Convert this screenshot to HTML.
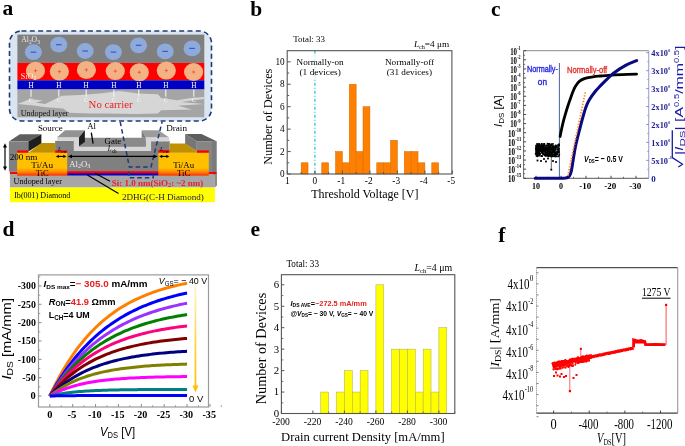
<!DOCTYPE html>
<html><head><meta charset="utf-8"><style>
html,body{margin:0;padding:0;background:#fff;width:685px;height:446px;overflow:hidden;font-family:"Liberation Serif",serif;}
svg{display:block;filter:blur(0.4px);}
</style></head><body>
<svg width="685" height="446" viewBox="0 0 685 446"><defs><linearGradient id="tic" x1="0" y1="0" x2="0" y2="1"><stop offset="0" stop-color="#ffc000"/><stop offset="0.66" stop-color="#ffc000"/><stop offset="0.84" stop-color="#ff8a00"/><stop offset="1" stop-color="#ff2a00"/></linearGradient><linearGradient id="yarr" x1="0" y1="0" x2="0" y2="1"><stop offset="0" stop-color="#fff7d0"/><stop offset="0.5" stop-color="#ffd84a"/><stop offset="1" stop-color="#ffc000"/></linearGradient></defs><rect x="0" y="0" width="685" height="446" fill="#ffffff"/><text x="2.40" y="15.20" font-family='"Liberation Serif", serif' font-size="21.5" fill="#000" text-anchor="start" font-weight="bold" font-style="normal" >a</text><text x="250.30" y="15.90" font-family='"Liberation Serif", serif' font-size="21.5" fill="#000" text-anchor="start" font-weight="bold" font-style="normal" >b</text><text x="491.00" y="15.50" font-family='"Liberation Serif", serif' font-size="21.5" fill="#000" text-anchor="start" font-weight="bold" font-style="normal" >c</text><text x="2.60" y="235.90" font-family='"Liberation Serif", serif' font-size="21.5" fill="#000" text-anchor="start" font-weight="bold" font-style="normal" >d</text><text x="250.50" y="235.90" font-family='"Liberation Serif", serif' font-size="21.5" fill="#000" text-anchor="start" font-weight="bold" font-style="normal" >e</text><text x="498.30" y="241.80" font-family='"Liberation Serif", serif' font-size="21.5" fill="#000" text-anchor="start" font-weight="bold" font-style="normal" >f</text><rect x="9.5" y="31" width="202" height="90" rx="12" ry="12" fill="#dbe5f1" stroke="#1f3a78" stroke-width="1.6" stroke-dasharray="5 3.3"/><rect x="17.40" y="34.60" width="186.90" height="28.30" fill="#7f7f7f" /><rect x="17.40" y="62.90" width="186.90" height="17.40" fill="#ff0000" /><rect x="17.40" y="80.30" width="186.90" height="9.20" fill="#0000c0" /><rect x="17.40" y="89.50" width="186.90" height="27.80" fill="#a5a5a5" /><polygon points="17.50,104.00 30.00,99.00 43.00,100.50 36.00,102.50 45.00,104.00 62.00,95.80 80.00,95.00 100.00,93.50 119.00,91.10 139.00,93.40 158.00,94.20 161.00,98.00 177.00,100.30 191.00,98.00 204.00,97.00 204.00,99.00 181.00,102.00 204.00,104.00 178.00,105.80 192.00,109.50 161.00,110.30 158.00,113.40 136.00,114.10 105.00,113.40 90.00,113.50 69.00,112.70 63.00,108.40 44.00,106.90 34.00,105.40" fill="#d6d6d6" /><ellipse cx="33.4" cy="52.2" rx="8.5" ry="7.9" fill="#8eaadb"/><line x1="30.60" y1="52.20" x2="36.20" y2="52.20" stroke="#3a5ac4" stroke-width="1.2" /><ellipse cx="58.8" cy="44.7" rx="8.5" ry="7.9" fill="#8eaadb"/><line x1="56.00" y1="44.70" x2="61.60" y2="44.70" stroke="#3a5ac4" stroke-width="1.2" /><ellipse cx="85.2" cy="51.0" rx="8.5" ry="7.9" fill="#8eaadb"/><line x1="82.40" y1="51.00" x2="88.00" y2="51.00" stroke="#3a5ac4" stroke-width="1.2" /><ellipse cx="113.4" cy="52.1" rx="8.5" ry="7.9" fill="#8eaadb"/><line x1="110.60" y1="52.10" x2="116.20" y2="52.10" stroke="#3a5ac4" stroke-width="1.2" /><ellipse cx="138.6" cy="45.3" rx="8.5" ry="7.9" fill="#8eaadb"/><line x1="135.80" y1="45.30" x2="141.40" y2="45.30" stroke="#3a5ac4" stroke-width="1.2" /><ellipse cx="165.2" cy="51.4" rx="8.5" ry="7.9" fill="#8eaadb"/><line x1="162.40" y1="51.40" x2="168.00" y2="51.40" stroke="#3a5ac4" stroke-width="1.2" /><ellipse cx="192.1" cy="48.4" rx="8.5" ry="7.9" fill="#8eaadb"/><line x1="189.30" y1="48.40" x2="194.90" y2="48.40" stroke="#3a5ac4" stroke-width="1.2" /><ellipse cx="35.5" cy="70.7" rx="9.6" ry="9.0" fill="#f4b183"/><line x1="33.80" y1="70.70" x2="37.20" y2="70.70" stroke="#e84a2a" stroke-width="0.7" /><line x1="35.50" y1="69.00" x2="35.50" y2="72.40" stroke="#e84a2a" stroke-width="0.7" /><ellipse cx="59.4" cy="71.6" rx="9.6" ry="9.0" fill="#f4b183"/><line x1="57.70" y1="71.60" x2="61.10" y2="71.60" stroke="#e84a2a" stroke-width="0.7" /><line x1="59.40" y1="69.90" x2="59.40" y2="73.30" stroke="#e84a2a" stroke-width="0.7" /><ellipse cx="86.4" cy="69.9" rx="9.6" ry="9.0" fill="#f4b183"/><line x1="84.70" y1="69.90" x2="88.10" y2="69.90" stroke="#e84a2a" stroke-width="0.7" /><line x1="86.40" y1="68.20" x2="86.40" y2="71.60" stroke="#e84a2a" stroke-width="0.7" /><ellipse cx="115.3" cy="71.1" rx="9.6" ry="9.0" fill="#f4b183"/><line x1="113.60" y1="71.10" x2="117.00" y2="71.10" stroke="#e84a2a" stroke-width="0.7" /><line x1="115.30" y1="69.40" x2="115.30" y2="72.80" stroke="#e84a2a" stroke-width="0.7" /><ellipse cx="139.3" cy="72.3" rx="9.6" ry="9.0" fill="#f4b183"/><line x1="137.60" y1="72.30" x2="141.00" y2="72.30" stroke="#e84a2a" stroke-width="0.7" /><line x1="139.30" y1="70.60" x2="139.30" y2="74.00" stroke="#e84a2a" stroke-width="0.7" /><ellipse cx="166.3" cy="70.6" rx="9.6" ry="9.0" fill="#f4b183"/><line x1="164.60" y1="70.60" x2="168.00" y2="70.60" stroke="#e84a2a" stroke-width="0.7" /><line x1="166.30" y1="68.90" x2="166.30" y2="72.30" stroke="#e84a2a" stroke-width="0.7" /><ellipse cx="193.6" cy="72.0" rx="9.6" ry="9.0" fill="#f4b183"/><line x1="191.90" y1="72.00" x2="195.30" y2="72.00" stroke="#e84a2a" stroke-width="0.7" /><line x1="193.60" y1="70.30" x2="193.60" y2="73.70" stroke="#e84a2a" stroke-width="0.7" /><text x="21.20" y="42.40" font-family='"Liberation Serif", serif' font-size="8.5" fill="#e8e8e8" font-weight="normal" font-style="normal" textLength="18.70" lengthAdjust="spacingAndGlyphs" >Al<tspan font-size="6" dy="1.5">2</tspan><tspan dy="-1.5">O</tspan><tspan font-size="6" dy="1.5">3</tspan></text><text x="20.80" y="78.50" font-family='"Liberation Serif", serif' font-size="8.5" fill="#f0f0f0" font-weight="normal" font-style="normal" textLength="15.50" lengthAdjust="spacingAndGlyphs" >SiO<tspan font-size="6" dy="1.5">2</tspan></text><text x="31.00" y="87.60" font-family='"Liberation Serif", serif' font-size="7.2" fill="#ffffff" text-anchor="middle" font-weight="normal" font-style="normal" >H</text><line x1="31.00" y1="89.60" x2="31.00" y2="96.80" stroke="#f4f4f4" stroke-width="1.1" /><text x="31.00" y="102.00" font-family='"Liberation Serif", serif' font-size="6.4" fill="#f6f6f6" text-anchor="middle" font-weight="normal" font-style="normal" >C</text><text x="58.80" y="87.60" font-family='"Liberation Serif", serif' font-size="7.2" fill="#ffffff" text-anchor="middle" font-weight="normal" font-style="normal" >H</text><line x1="58.80" y1="89.60" x2="58.80" y2="96.80" stroke="#f4f4f4" stroke-width="1.1" /><text x="58.80" y="102.00" font-family='"Liberation Serif", serif' font-size="6.4" fill="#f6f6f6" text-anchor="middle" font-weight="normal" font-style="normal" >C</text><text x="86.20" y="87.60" font-family='"Liberation Serif", serif' font-size="7.2" fill="#ffffff" text-anchor="middle" font-weight="normal" font-style="normal" >H</text><line x1="86.20" y1="89.60" x2="86.20" y2="96.80" stroke="#f4f4f4" stroke-width="1.1" /><text x="86.20" y="102.00" font-family='"Liberation Serif", serif' font-size="6.4" fill="#f6f6f6" text-anchor="middle" font-weight="normal" font-style="normal" >C</text><text x="113.90" y="87.60" font-family='"Liberation Serif", serif' font-size="7.2" fill="#ffffff" text-anchor="middle" font-weight="normal" font-style="normal" >H</text><line x1="113.90" y1="89.60" x2="113.90" y2="96.80" stroke="#f4f4f4" stroke-width="1.1" /><text x="113.90" y="102.00" font-family='"Liberation Serif", serif' font-size="6.4" fill="#f6f6f6" text-anchor="middle" font-weight="normal" font-style="normal" >C</text><text x="138.80" y="87.60" font-family='"Liberation Serif", serif' font-size="7.2" fill="#ffffff" text-anchor="middle" font-weight="normal" font-style="normal" >H</text><line x1="138.80" y1="89.60" x2="138.80" y2="96.80" stroke="#f4f4f4" stroke-width="1.1" /><text x="138.80" y="102.00" font-family='"Liberation Serif", serif' font-size="6.4" fill="#f6f6f6" text-anchor="middle" font-weight="normal" font-style="normal" >C</text><text x="165.80" y="87.60" font-family='"Liberation Serif", serif' font-size="7.2" fill="#ffffff" text-anchor="middle" font-weight="normal" font-style="normal" >H</text><line x1="165.80" y1="89.60" x2="165.80" y2="96.80" stroke="#f4f4f4" stroke-width="1.1" /><text x="165.80" y="102.00" font-family='"Liberation Serif", serif' font-size="6.4" fill="#f6f6f6" text-anchor="middle" font-weight="normal" font-style="normal" >C</text><text x="193.80" y="87.60" font-family='"Liberation Serif", serif' font-size="7.2" fill="#ffffff" text-anchor="middle" font-weight="normal" font-style="normal" >H</text><line x1="193.80" y1="89.60" x2="193.80" y2="96.80" stroke="#f4f4f4" stroke-width="1.1" /><text x="193.80" y="102.00" font-family='"Liberation Serif", serif' font-size="6.4" fill="#f6f6f6" text-anchor="middle" font-weight="normal" font-style="normal" >C</text><text x="88.60" y="107.60" font-family='"Liberation Serif", serif' font-size="10.2" fill="#ee1c1c" font-weight="normal" font-style="normal" textLength="44.00" lengthAdjust="spacingAndGlyphs" >No carrier</text><text x="20.70" y="115.60" font-family='"Liberation Serif", serif' font-size="8.8" fill="#111" font-weight="normal" font-style="normal" textLength="47.80" lengthAdjust="spacingAndGlyphs" >Undoped layer</text><rect x="9.90" y="187.30" width="205.00" height="14.90" fill="#ffff00" /><rect x="9.90" y="173.80" width="205.00" height="13.50" fill="#a6a6a6" /><polygon points="209.00,172.00 217.00,172.00 217.00,185.50 214.90,187.30 214.90,175.50" fill="#8c8c8c" /><rect x="9.90" y="171.50" width="206.50" height="2.50" fill="#ff0000" /><polygon points="8.90,141.60 19.80,134.20 41.40,134.20 28.40,141.60" fill="#5f5f5f" /><rect x="8.90" y="141.60" width="19.50" height="30.00" fill="#808080" /><polygon points="28.40,141.60 41.40,134.20 41.40,143.50 28.40,151.50" fill="#1e1e1e" /><polygon points="185.10,134.10 201.50,134.10 216.50,141.20 196.80,141.20" fill="#5e5e5e" /><polygon points="185.10,134.10 196.80,141.20 196.80,151.20 185.10,143.70" fill="#767676" /><rect x="196.80" y="141.20" width="19.70" height="30.80" fill="#858585" /><polygon points="212.00,141.20 216.50,141.20 216.50,172.00 212.00,172.00" fill="#7a7a7a" /><rect x="55.10" y="140.80" width="114.60" height="30.80" fill="#808080" /><polygon points="57.10,137.30 79.00,137.30 79.00,146.60 145.80,146.60 145.80,137.30 169.20,137.30 169.20,141.40 151.10,141.40 151.10,150.90 73.80,150.90 73.80,140.80 57.10,140.80" fill="#d6d6d6" /><polygon points="84.90,137.80 141.70,137.80 145.80,137.80 145.80,146.60 79.00,146.60 79.00,146.00" fill="#8a8a8a" /><polygon points="57.10,137.30 65.00,130.30 84.90,130.30 79.00,137.30" fill="#939393" /><polygon points="79.00,137.30 84.90,130.30 84.90,141.90 79.00,146.00" fill="#1e1e1e" /><polygon points="141.70,130.30 158.60,130.30 168.80,137.30 145.80,137.30" fill="#9c9c9c" /><polygon points="141.70,130.30 145.80,137.30 145.80,137.80 141.70,137.80" fill="#7a7a7a" /><rect x="67.20" y="171.20" width="91.40" height="2.20" fill="#ff0000" /><rect x="67.20" y="173.40" width="91.40" height="2.10" fill="#0000d0" /><rect x="17.10" y="152.60" width="50.10" height="23.00" fill="url(#tic)" /><rect x="158.40" y="152.60" width="50.40" height="23.00" fill="url(#tic)" /><rect x="17.10" y="150.40" width="11.30" height="2.30" fill="#ff0000" /><rect x="55.10" y="150.50" width="12.10" height="2.20" fill="#ff0000" /><rect x="158.40" y="150.10" width="11.30" height="2.50" fill="#ff0000" /><rect x="196.80" y="150.40" width="12.00" height="2.30" fill="#ff0000" /><polygon points="28.40,152.70 41.40,143.10 55.10,143.10 55.10,152.70" fill="#bf9000" /><polygon points="169.70,152.70 169.70,143.40 185.10,143.40 196.80,151.20 196.80,152.70" fill="#bf9000" /><path d="M120.2,121.8 L129.4,167.1 L151.0,167.1 L162.1,121.8" fill="none" stroke="#1f3a78" stroke-width="1.5" stroke-dasharray="4.5 3"/><path d="M128.6,171.5 L128.6,177.8 L153.2,177.8 L153.2,171.5" fill="none" stroke="#1f3a78" stroke-width="1.5" stroke-dasharray="4.5 3"/><line x1="70.00" y1="156.40" x2="155.50" y2="156.40" stroke="#000" stroke-width="1.2" /><polygon points="67.80,156.40 72.00,154.50 72.00,158.30" fill="#000" /><polygon points="157.70,156.40 153.50,154.50 153.50,158.30" fill="#000" /><line x1="57.90" y1="156.40" x2="64.40" y2="156.40" stroke="#000" stroke-width="1.1" /><polygon points="55.90,156.40 58.90,154.70 58.90,158.10" fill="#000" /><polygon points="66.40,156.40 63.40,154.70 63.40,158.10" fill="#000" /><line x1="161.20" y1="156.40" x2="167.30" y2="156.40" stroke="#000" stroke-width="1.1" /><polygon points="159.20,156.40 162.20,154.70 162.20,158.10" fill="#000" /><polygon points="169.30,156.40 166.30,154.70 166.30,158.10" fill="#000" /><line x1="5.00" y1="146.00" x2="5.00" y2="168.00" stroke="#000" stroke-width="1.2" /><polygon points="5.00,143.30 3.00,147.50 7.00,147.50" fill="#000" /><polygon points="5.00,170.70 3.00,166.50 7.00,166.50" fill="#000" /><line x1="95.00" y1="173.20" x2="110.00" y2="181.20" stroke="#000" stroke-width="1.2" /><line x1="87.40" y1="175.10" x2="118.50" y2="193.60" stroke="#000" stroke-width="1.2" /><line x1="91.30" y1="132.60" x2="93.10" y2="143.70" stroke="#000" stroke-width="1.3" /><text x="37.90" y="130.60" font-family='"Liberation Serif", serif' font-size="8.6" fill="#000" font-weight="normal" font-style="normal" textLength="24.80" lengthAdjust="spacingAndGlyphs" >Source</text><text x="166.20" y="130.70" font-family='"Liberation Serif", serif' font-size="8.6" fill="#000" font-weight="normal" font-style="normal" textLength="20.80" lengthAdjust="spacingAndGlyphs" >Drain</text><text x="87.20" y="129.10" font-family='"Liberation Serif", serif' font-size="8.2" fill="#000" font-weight="normal" font-style="normal" textLength="8.80" lengthAdjust="spacingAndGlyphs" >Al</text><text x="104.60" y="144.30" font-family='"Liberation Serif", serif' font-size="8.0" fill="#000" font-weight="normal" font-style="normal" textLength="16.70" lengthAdjust="spacingAndGlyphs" >Gate</text><text x="107.80" y="151.30" font-family='"Liberation Serif", serif' font-size="7.5" fill="#000" font-weight="normal" font-style="normal" textLength="8.80" lengthAdjust="spacingAndGlyphs" ><tspan font-style="italic">L</tspan><tspan font-size="5.5" dy="1.3">ch</tspan></text><text x="58.00" y="151.30" font-family='"Liberation Serif", serif' font-size="7.0" fill="#000" font-weight="normal" font-style="normal" textLength="8.50" lengthAdjust="spacingAndGlyphs" ><tspan font-style="italic">L</tspan><tspan font-size="5" dy="1.2">ext</tspan></text><text x="160.00" y="151.30" font-family='"Liberation Serif", serif' font-size="7.0" fill="#000" font-weight="normal" font-style="normal" textLength="8.50" lengthAdjust="spacingAndGlyphs" ><tspan font-style="italic">L</tspan><tspan font-size="5" dy="1.2">ext</tspan></text><text x="9.70" y="159.60" font-family='"Liberation Serif", serif' font-size="8.4" fill="#000" font-weight="normal" font-style="normal" textLength="27.60" lengthAdjust="spacingAndGlyphs" >200 nm</text><text x="31.30" y="167.90" font-family='"Liberation Serif", serif' font-size="8.6" fill="#000" font-weight="normal" font-style="normal" textLength="21.80" lengthAdjust="spacingAndGlyphs" >Ti/Au</text><text x="35.80" y="175.60" font-family='"Liberation Serif", serif' font-size="8.8" fill="#000" font-weight="normal" font-style="normal" textLength="13.00" lengthAdjust="spacingAndGlyphs" >TiC</text><text x="173.30" y="168.00" font-family='"Liberation Serif", serif' font-size="8.6" fill="#000" font-weight="normal" font-style="normal" textLength="20.80" lengthAdjust="spacingAndGlyphs" >Ti/Au</text><text x="177.00" y="175.50" font-family='"Liberation Serif", serif' font-size="8.8" fill="#000" font-weight="normal" font-style="normal" textLength="13.40" lengthAdjust="spacingAndGlyphs" >TiC</text><text x="69.30" y="166.50" font-family='"Liberation Serif", serif' font-size="8.6" fill="#eeeeee" font-weight="normal" font-style="normal" textLength="21.00" lengthAdjust="spacingAndGlyphs" >Al<tspan font-size="6" dy="1.5">2</tspan><tspan dy="-1.5">O</tspan><tspan font-size="6" dy="1.5">3</tspan></text><text x="13.60" y="183.50" font-family='"Liberation Serif", serif' font-size="8.8" fill="#000" font-weight="normal" font-style="normal" textLength="48.30" lengthAdjust="spacingAndGlyphs" >Undoped layer</text><text x="14.20" y="198.10" font-family='"Liberation Serif", serif' font-size="8.6" fill="#000" font-weight="normal" font-style="normal" textLength="56.10" lengthAdjust="spacingAndGlyphs" >Ib(001) Diamond</text><text x="111.70" y="185.70" font-family='"Liberation Serif", serif' font-size="8.3" fill="#e8202a" font-weight="bold" font-style="normal" textLength="91.60" lengthAdjust="spacingAndGlyphs" >Si: 1.0 nm(SiO<tspan font-size="6" dy="1.5">2</tspan><tspan dy="-1.5">: ~2 nm)</tspan></text><text x="121.90" y="199.80" font-family='"Liberation Serif", serif' font-size="9.0" fill="#1a1a40" font-weight="normal" font-style="normal" textLength="81.90" lengthAdjust="spacingAndGlyphs" >2DHG(C-H Diamond)</text><rect x="301.15" y="162.78" width="6.88" height="11.22" fill="#ff8000" stroke="#d06a00" stroke-width="0.5"/><rect x="321.77" y="162.78" width="6.88" height="11.22" fill="#ff8000" stroke="#d06a00" stroke-width="0.5"/><rect x="335.52" y="151.56" width="6.88" height="22.44" fill="#ff8000" stroke="#d06a00" stroke-width="0.5"/><rect x="342.40" y="162.78" width="6.88" height="11.22" fill="#ff8000" stroke="#d06a00" stroke-width="0.5"/><rect x="349.27" y="84.24" width="6.88" height="89.76" fill="#ff8000" stroke="#d06a00" stroke-width="0.5"/><rect x="356.15" y="151.56" width="6.88" height="22.44" fill="#ff8000" stroke="#d06a00" stroke-width="0.5"/><rect x="363.02" y="106.68" width="6.88" height="67.32" fill="#ff8000" stroke="#d06a00" stroke-width="0.5"/><rect x="376.77" y="162.78" width="6.88" height="11.22" fill="#ff8000" stroke="#d06a00" stroke-width="0.5"/><rect x="383.65" y="162.78" width="6.88" height="11.22" fill="#ff8000" stroke="#d06a00" stroke-width="0.5"/><rect x="390.52" y="140.34" width="6.88" height="33.66" fill="#ff8000" stroke="#d06a00" stroke-width="0.5"/><rect x="404.27" y="151.56" width="6.88" height="22.44" fill="#ff8000" stroke="#d06a00" stroke-width="0.5"/><rect x="411.15" y="151.56" width="6.88" height="22.44" fill="#ff8000" stroke="#d06a00" stroke-width="0.5"/><rect x="418.02" y="162.78" width="6.88" height="11.22" fill="#ff8000" stroke="#d06a00" stroke-width="0.5"/><rect x="431.77" y="162.78" width="6.88" height="11.22" fill="#ff8000" stroke="#d06a00" stroke-width="0.5"/><line x1="314.90" y1="50.7" x2="314.90" y2="174.0" stroke="#2fc4cc" stroke-width="1.3" stroke-dasharray="3 2 1 2"/><rect x="292.00" y="56.00" width="54.00" height="23.00" fill="#ffffff" opacity="0.75"/><rect x="287.20" y="50.70" width="164.70" height="123.30" fill="none" stroke="#555" stroke-width="1.1"/><line x1="287.20" y1="174.00" x2="290.70" y2="174.00" stroke="#555" stroke-width="1" /><text x="280.00" y="177.20" font-family='"Liberation Serif", serif' font-size="9.5" fill="#000" font-weight="normal" font-style="normal" textLength="4.60" lengthAdjust="spacingAndGlyphs" >0</text><line x1="287.20" y1="162.78" x2="289.20" y2="162.78" stroke="#555" stroke-width="1" /><line x1="287.20" y1="151.56" x2="290.70" y2="151.56" stroke="#555" stroke-width="1" /><text x="280.00" y="154.76" font-family='"Liberation Serif", serif' font-size="9.5" fill="#000" font-weight="normal" font-style="normal" textLength="4.60" lengthAdjust="spacingAndGlyphs" >2</text><line x1="287.20" y1="140.34" x2="289.20" y2="140.34" stroke="#555" stroke-width="1" /><line x1="287.20" y1="129.12" x2="290.70" y2="129.12" stroke="#555" stroke-width="1" /><text x="280.00" y="132.32" font-family='"Liberation Serif", serif' font-size="9.5" fill="#000" font-weight="normal" font-style="normal" textLength="4.60" lengthAdjust="spacingAndGlyphs" >4</text><line x1="287.20" y1="117.90" x2="289.20" y2="117.90" stroke="#555" stroke-width="1" /><line x1="287.20" y1="106.68" x2="290.70" y2="106.68" stroke="#555" stroke-width="1" /><text x="280.00" y="109.88" font-family='"Liberation Serif", serif' font-size="9.5" fill="#000" font-weight="normal" font-style="normal" textLength="4.60" lengthAdjust="spacingAndGlyphs" >6</text><line x1="287.20" y1="95.46" x2="289.20" y2="95.46" stroke="#555" stroke-width="1" /><line x1="287.20" y1="84.24" x2="290.70" y2="84.24" stroke="#555" stroke-width="1" /><text x="280.00" y="87.44" font-family='"Liberation Serif", serif' font-size="9.5" fill="#000" font-weight="normal" font-style="normal" textLength="4.60" lengthAdjust="spacingAndGlyphs" >8</text><line x1="287.20" y1="73.02" x2="289.20" y2="73.02" stroke="#555" stroke-width="1" /><line x1="287.20" y1="61.80" x2="290.70" y2="61.80" stroke="#555" stroke-width="1" /><text x="275.40" y="65.00" font-family='"Liberation Serif", serif' font-size="9.5" fill="#000" font-weight="normal" font-style="normal" textLength="9.20" lengthAdjust="spacingAndGlyphs" >10</text><line x1="287.40" y1="174.00" x2="287.40" y2="170.50" stroke="#555" stroke-width="1" /><text x="287.40" y="184.20" font-family='"Liberation Serif", serif' font-size="9.3" fill="#000" text-anchor="middle" font-weight="normal" font-style="normal" >1</text><line x1="301.15" y1="174.00" x2="301.15" y2="172.00" stroke="#555" stroke-width="1" /><line x1="314.90" y1="174.00" x2="314.90" y2="170.50" stroke="#555" stroke-width="1" /><text x="314.90" y="184.20" font-family='"Liberation Serif", serif' font-size="9.3" fill="#000" text-anchor="middle" font-weight="normal" font-style="normal" >0</text><line x1="328.65" y1="174.00" x2="328.65" y2="172.00" stroke="#555" stroke-width="1" /><line x1="342.40" y1="174.00" x2="342.40" y2="170.50" stroke="#555" stroke-width="1" /><text x="341.20" y="184.20" font-family='"Liberation Serif", serif' font-size="9.3" fill="#000" text-anchor="middle" font-weight="normal" font-style="normal" >-1</text><line x1="356.15" y1="174.00" x2="356.15" y2="172.00" stroke="#555" stroke-width="1" /><line x1="369.90" y1="174.00" x2="369.90" y2="170.50" stroke="#555" stroke-width="1" /><text x="368.70" y="184.20" font-family='"Liberation Serif", serif' font-size="9.3" fill="#000" text-anchor="middle" font-weight="normal" font-style="normal" >-2</text><line x1="383.65" y1="174.00" x2="383.65" y2="172.00" stroke="#555" stroke-width="1" /><line x1="397.40" y1="174.00" x2="397.40" y2="170.50" stroke="#555" stroke-width="1" /><text x="396.20" y="184.20" font-family='"Liberation Serif", serif' font-size="9.3" fill="#000" text-anchor="middle" font-weight="normal" font-style="normal" >-3</text><line x1="411.15" y1="174.00" x2="411.15" y2="172.00" stroke="#555" stroke-width="1" /><line x1="424.90" y1="174.00" x2="424.90" y2="170.50" stroke="#555" stroke-width="1" /><text x="423.70" y="184.20" font-family='"Liberation Serif", serif' font-size="9.3" fill="#000" text-anchor="middle" font-weight="normal" font-style="normal" >-4</text><line x1="438.65" y1="174.00" x2="438.65" y2="172.00" stroke="#555" stroke-width="1" /><line x1="452.40" y1="174.00" x2="452.40" y2="170.50" stroke="#555" stroke-width="1" /><text x="451.20" y="184.20" font-family='"Liberation Serif", serif' font-size="9.3" fill="#000" text-anchor="middle" font-weight="normal" font-style="normal" >-5</text><text x="293.20" y="41.70" font-family='"Liberation Serif", serif' font-size="9.0" fill="#000" font-weight="normal" font-style="normal" textLength="31.80" lengthAdjust="spacingAndGlyphs" >Total: 33</text><text x="413.90" y="46.80" font-family='"Liberation Serif", serif' font-size="9.0" fill="#000" font-weight="normal" font-style="normal" textLength="35.30" lengthAdjust="spacingAndGlyphs" ><tspan font-style="italic">L</tspan><tspan font-size="6" dy="1.8">ch</tspan><tspan dy="-1.8">=4 μm</tspan></text><text x="296.60" y="64.60" font-family='"Liberation Serif", serif' font-size="9.2" fill="#000" font-weight="normal" font-style="normal" textLength="47.00" lengthAdjust="spacingAndGlyphs" >Normally-on</text><text x="299.50" y="75.20" font-family='"Liberation Serif", serif' font-size="9.2" fill="#000" font-weight="normal" font-style="normal" textLength="41.30" lengthAdjust="spacingAndGlyphs" >(1 devices)</text><text x="384.90" y="64.80" font-family='"Liberation Serif", serif' font-size="9.2" fill="#000" font-weight="normal" font-style="normal" textLength="49.30" lengthAdjust="spacingAndGlyphs" >Normally-off</text><text x="386.80" y="75.40" font-family='"Liberation Serif", serif' font-size="9.2" fill="#000" font-weight="normal" font-style="normal" textLength="45.20" lengthAdjust="spacingAndGlyphs" >(31 devices)</text><text x="311.20" y="197.90" font-family='"Liberation Serif", serif' font-size="12.2" fill="#000" font-weight="normal" font-style="normal" textLength="107.30" lengthAdjust="spacingAndGlyphs" >Threshold Voltage [V]</text><text x="0" y="0" font-family='"Liberation Serif", serif' font-size="12.6" fill="#000" font-weight="normal" textLength="96.20" lengthAdjust="spacingAndGlyphs" transform="translate(272.00,164.80) rotate(-90)">Number of Devices</text><line x1="523.60" y1="50.70" x2="648.70" y2="50.70" stroke="#8a8a8a" stroke-width="1" /><line x1="523.60" y1="50.70" x2="523.60" y2="178.30" stroke="#666" stroke-width="1" /><line x1="523.60" y1="178.30" x2="648.70" y2="178.30" stroke="#555" stroke-width="1" /><line x1="648.70" y1="50.70" x2="648.70" y2="178.30" stroke="#a8a8d8" stroke-width="1.2" /><line x1="523.60" y1="50.70" x2="526.10" y2="50.70" stroke="#333" stroke-width="0.9" /><line x1="523.60" y1="55.25" x2="525.10" y2="55.25" stroke="#333" stroke-width="0.7" /><text x="510.20" y="54.50" font-family='"Liberation Serif", serif' font-size="9.4" fill="#000" font-weight="bold" font-style="normal" textLength="6.80" lengthAdjust="spacingAndGlyphs" >10</text><text x="517.20" y="49.80" font-family='"Liberation Serif", serif' font-size="5.8" fill="#000" font-weight="bold" font-style="normal" textLength="3.40" lengthAdjust="spacingAndGlyphs" >-1</text><line x1="523.60" y1="59.81" x2="526.10" y2="59.81" stroke="#333" stroke-width="0.9" /><line x1="523.60" y1="64.36" x2="525.10" y2="64.36" stroke="#333" stroke-width="0.7" /><text x="510.20" y="63.61" font-family='"Liberation Serif", serif' font-size="9.4" fill="#000" font-weight="bold" font-style="normal" textLength="6.80" lengthAdjust="spacingAndGlyphs" >10</text><text x="517.20" y="58.91" font-family='"Liberation Serif", serif' font-size="5.8" fill="#000" font-weight="bold" font-style="normal" textLength="3.40" lengthAdjust="spacingAndGlyphs" >-2</text><line x1="523.60" y1="68.93" x2="526.10" y2="68.93" stroke="#333" stroke-width="0.9" /><line x1="523.60" y1="73.48" x2="525.10" y2="73.48" stroke="#333" stroke-width="0.7" /><text x="510.20" y="72.73" font-family='"Liberation Serif", serif' font-size="9.4" fill="#000" font-weight="bold" font-style="normal" textLength="6.80" lengthAdjust="spacingAndGlyphs" >10</text><text x="517.20" y="68.03" font-family='"Liberation Serif", serif' font-size="5.8" fill="#000" font-weight="bold" font-style="normal" textLength="3.40" lengthAdjust="spacingAndGlyphs" >-3</text><line x1="523.60" y1="78.04" x2="526.10" y2="78.04" stroke="#333" stroke-width="0.9" /><line x1="523.60" y1="82.59" x2="525.10" y2="82.59" stroke="#333" stroke-width="0.7" /><text x="510.20" y="81.84" font-family='"Liberation Serif", serif' font-size="9.4" fill="#000" font-weight="bold" font-style="normal" textLength="6.80" lengthAdjust="spacingAndGlyphs" >10</text><text x="517.20" y="77.14" font-family='"Liberation Serif", serif' font-size="5.8" fill="#000" font-weight="bold" font-style="normal" textLength="3.40" lengthAdjust="spacingAndGlyphs" >-4</text><line x1="523.60" y1="87.16" x2="526.10" y2="87.16" stroke="#333" stroke-width="0.9" /><line x1="523.60" y1="91.71" x2="525.10" y2="91.71" stroke="#333" stroke-width="0.7" /><text x="510.20" y="90.96" font-family='"Liberation Serif", serif' font-size="9.4" fill="#000" font-weight="bold" font-style="normal" textLength="6.80" lengthAdjust="spacingAndGlyphs" >10</text><text x="517.20" y="86.26" font-family='"Liberation Serif", serif' font-size="5.8" fill="#000" font-weight="bold" font-style="normal" textLength="3.40" lengthAdjust="spacingAndGlyphs" >-5</text><line x1="523.60" y1="96.27" x2="526.10" y2="96.27" stroke="#333" stroke-width="0.9" /><line x1="523.60" y1="100.82" x2="525.10" y2="100.82" stroke="#333" stroke-width="0.7" /><text x="510.20" y="100.07" font-family='"Liberation Serif", serif' font-size="9.4" fill="#000" font-weight="bold" font-style="normal" textLength="6.80" lengthAdjust="spacingAndGlyphs" >10</text><text x="517.20" y="95.37" font-family='"Liberation Serif", serif' font-size="5.8" fill="#000" font-weight="bold" font-style="normal" textLength="3.40" lengthAdjust="spacingAndGlyphs" >-6</text><line x1="523.60" y1="105.38" x2="526.10" y2="105.38" stroke="#333" stroke-width="0.9" /><line x1="523.60" y1="109.93" x2="525.10" y2="109.93" stroke="#333" stroke-width="0.7" /><text x="510.20" y="109.18" font-family='"Liberation Serif", serif' font-size="9.4" fill="#000" font-weight="bold" font-style="normal" textLength="6.80" lengthAdjust="spacingAndGlyphs" >10</text><text x="517.20" y="104.48" font-family='"Liberation Serif", serif' font-size="5.8" fill="#000" font-weight="bold" font-style="normal" textLength="3.40" lengthAdjust="spacingAndGlyphs" >-7</text><line x1="523.60" y1="114.50" x2="526.10" y2="114.50" stroke="#333" stroke-width="0.9" /><line x1="523.60" y1="119.05" x2="525.10" y2="119.05" stroke="#333" stroke-width="0.7" /><text x="510.20" y="118.30" font-family='"Liberation Serif", serif' font-size="9.4" fill="#000" font-weight="bold" font-style="normal" textLength="6.80" lengthAdjust="spacingAndGlyphs" >10</text><text x="517.20" y="113.60" font-family='"Liberation Serif", serif' font-size="5.8" fill="#000" font-weight="bold" font-style="normal" textLength="3.40" lengthAdjust="spacingAndGlyphs" >-8</text><line x1="523.60" y1="123.61" x2="526.10" y2="123.61" stroke="#333" stroke-width="0.9" /><line x1="523.60" y1="128.16" x2="525.10" y2="128.16" stroke="#333" stroke-width="0.7" /><text x="510.20" y="127.41" font-family='"Liberation Serif", serif' font-size="9.4" fill="#000" font-weight="bold" font-style="normal" textLength="6.80" lengthAdjust="spacingAndGlyphs" >10</text><text x="517.20" y="122.71" font-family='"Liberation Serif", serif' font-size="5.8" fill="#000" font-weight="bold" font-style="normal" textLength="3.40" lengthAdjust="spacingAndGlyphs" >-9</text><line x1="523.60" y1="132.73" x2="526.10" y2="132.73" stroke="#333" stroke-width="0.9" /><line x1="523.60" y1="137.28" x2="525.10" y2="137.28" stroke="#333" stroke-width="0.7" /><text x="507.90" y="136.53" font-family='"Liberation Serif", serif' font-size="9.4" fill="#000" font-weight="bold" font-style="normal" textLength="7.10" lengthAdjust="spacingAndGlyphs" >10</text><text x="515.30" y="131.83" font-family='"Liberation Serif", serif' font-size="5.8" fill="#000" font-weight="bold" font-style="normal" textLength="6.00" lengthAdjust="spacingAndGlyphs" >-10</text><line x1="523.60" y1="141.84" x2="526.10" y2="141.84" stroke="#333" stroke-width="0.9" /><line x1="523.60" y1="146.39" x2="525.10" y2="146.39" stroke="#333" stroke-width="0.7" /><text x="507.90" y="145.64" font-family='"Liberation Serif", serif' font-size="9.4" fill="#000" font-weight="bold" font-style="normal" textLength="7.10" lengthAdjust="spacingAndGlyphs" >10</text><text x="515.30" y="140.94" font-family='"Liberation Serif", serif' font-size="5.8" fill="#000" font-weight="bold" font-style="normal" textLength="6.00" lengthAdjust="spacingAndGlyphs" >-11</text><line x1="523.60" y1="150.95" x2="526.10" y2="150.95" stroke="#333" stroke-width="0.9" /><line x1="523.60" y1="155.50" x2="525.10" y2="155.50" stroke="#333" stroke-width="0.7" /><text x="507.90" y="154.75" font-family='"Liberation Serif", serif' font-size="9.4" fill="#000" font-weight="bold" font-style="normal" textLength="7.10" lengthAdjust="spacingAndGlyphs" >10</text><text x="515.30" y="150.05" font-family='"Liberation Serif", serif' font-size="5.8" fill="#000" font-weight="bold" font-style="normal" textLength="6.00" lengthAdjust="spacingAndGlyphs" >-12</text><line x1="523.60" y1="160.07" x2="526.10" y2="160.07" stroke="#333" stroke-width="0.9" /><line x1="523.60" y1="164.62" x2="525.10" y2="164.62" stroke="#333" stroke-width="0.7" /><text x="507.90" y="163.87" font-family='"Liberation Serif", serif' font-size="9.4" fill="#000" font-weight="bold" font-style="normal" textLength="7.10" lengthAdjust="spacingAndGlyphs" >10</text><text x="515.30" y="159.17" font-family='"Liberation Serif", serif' font-size="5.8" fill="#000" font-weight="bold" font-style="normal" textLength="6.00" lengthAdjust="spacingAndGlyphs" >-13</text><line x1="523.60" y1="169.18" x2="526.10" y2="169.18" stroke="#333" stroke-width="0.9" /><line x1="523.60" y1="173.73" x2="525.10" y2="173.73" stroke="#333" stroke-width="0.7" /><text x="507.90" y="172.98" font-family='"Liberation Serif", serif' font-size="9.4" fill="#000" font-weight="bold" font-style="normal" textLength="7.10" lengthAdjust="spacingAndGlyphs" >10</text><text x="515.30" y="168.28" font-family='"Liberation Serif", serif' font-size="5.8" fill="#000" font-weight="bold" font-style="normal" textLength="6.00" lengthAdjust="spacingAndGlyphs" >-14</text><line x1="523.60" y1="178.30" x2="526.10" y2="178.30" stroke="#333" stroke-width="0.9" /><text x="507.90" y="182.10" font-family='"Liberation Serif", serif' font-size="9.4" fill="#000" font-weight="bold" font-style="normal" textLength="7.10" lengthAdjust="spacingAndGlyphs" >10</text><text x="515.30" y="177.40" font-family='"Liberation Serif", serif' font-size="5.8" fill="#000" font-weight="bold" font-style="normal" textLength="6.00" lengthAdjust="spacingAndGlyphs" >-15</text><line x1="648.70" y1="178.30" x2="646.20" y2="178.30" stroke="#8080c0" stroke-width="0.9" /><line x1="648.70" y1="169.33" x2="647.20" y2="169.33" stroke="#8080c0" stroke-width="0.7" /><line x1="648.70" y1="160.36" x2="646.20" y2="160.36" stroke="#8080c0" stroke-width="0.9" /><line x1="648.70" y1="151.39" x2="647.20" y2="151.39" stroke="#8080c0" stroke-width="0.7" /><line x1="648.70" y1="142.42" x2="646.20" y2="142.42" stroke="#8080c0" stroke-width="0.9" /><line x1="648.70" y1="133.45" x2="647.20" y2="133.45" stroke="#8080c0" stroke-width="0.7" /><line x1="648.70" y1="124.48" x2="646.20" y2="124.48" stroke="#8080c0" stroke-width="0.9" /><line x1="648.70" y1="115.51" x2="647.20" y2="115.51" stroke="#8080c0" stroke-width="0.7" /><line x1="648.70" y1="106.54" x2="646.20" y2="106.54" stroke="#8080c0" stroke-width="0.9" /><line x1="648.70" y1="97.57" x2="647.20" y2="97.57" stroke="#8080c0" stroke-width="0.7" /><line x1="648.70" y1="88.60" x2="646.20" y2="88.60" stroke="#8080c0" stroke-width="0.9" /><line x1="648.70" y1="79.63" x2="647.20" y2="79.63" stroke="#8080c0" stroke-width="0.7" /><line x1="648.70" y1="70.66" x2="646.20" y2="70.66" stroke="#8080c0" stroke-width="0.9" /><line x1="648.70" y1="61.69" x2="647.20" y2="61.69" stroke="#8080c0" stroke-width="0.7" /><line x1="648.70" y1="52.72" x2="646.20" y2="52.72" stroke="#8080c0" stroke-width="0.9" /><text x="651.30" y="181.50" font-family='"Liberation Serif", serif' font-size="8.6" fill="#1a1a8c" font-weight="bold" font-style="normal" textLength="4.50" lengthAdjust="spacingAndGlyphs" >0</text><text x="651.30" y="163.56" font-family='"Liberation Serif", serif' font-size="8.6" fill="#1a1a8c" font-weight="bold" font-style="normal" textLength="16.70" lengthAdjust="spacingAndGlyphs" >5x10</text><text x="668.30" y="159.46" font-family='"Liberation Serif", serif' font-size="5.0" fill="#1a1a8c" font-weight="bold" font-style="normal" textLength="3.60" lengthAdjust="spacingAndGlyphs" >-1</text><text x="651.30" y="145.62" font-family='"Liberation Serif", serif' font-size="8.6" fill="#1a1a8c" font-weight="bold" font-style="normal" textLength="16.70" lengthAdjust="spacingAndGlyphs" >1x10</text><text x="668.30" y="141.52" font-family='"Liberation Serif", serif' font-size="5.0" fill="#1a1a8c" font-weight="bold" font-style="normal" textLength="2.00" lengthAdjust="spacingAndGlyphs" >0</text><text x="651.30" y="127.68" font-family='"Liberation Serif", serif' font-size="8.6" fill="#1a1a8c" font-weight="bold" font-style="normal" textLength="16.70" lengthAdjust="spacingAndGlyphs" >2x10</text><text x="668.30" y="123.58" font-family='"Liberation Serif", serif' font-size="5.0" fill="#1a1a8c" font-weight="bold" font-style="normal" textLength="2.00" lengthAdjust="spacingAndGlyphs" >0</text><text x="651.30" y="109.74" font-family='"Liberation Serif", serif' font-size="8.6" fill="#1a1a8c" font-weight="bold" font-style="normal" textLength="16.70" lengthAdjust="spacingAndGlyphs" >2x10</text><text x="668.30" y="105.64" font-family='"Liberation Serif", serif' font-size="5.0" fill="#1a1a8c" font-weight="bold" font-style="normal" textLength="2.00" lengthAdjust="spacingAndGlyphs" >0</text><text x="651.30" y="91.80" font-family='"Liberation Serif", serif' font-size="8.6" fill="#1a1a8c" font-weight="bold" font-style="normal" textLength="16.70" lengthAdjust="spacingAndGlyphs" >3x10</text><text x="668.30" y="87.70" font-family='"Liberation Serif", serif' font-size="5.0" fill="#1a1a8c" font-weight="bold" font-style="normal" textLength="2.00" lengthAdjust="spacingAndGlyphs" >0</text><text x="651.30" y="73.86" font-family='"Liberation Serif", serif' font-size="8.6" fill="#1a1a8c" font-weight="bold" font-style="normal" textLength="16.70" lengthAdjust="spacingAndGlyphs" >3x10</text><text x="668.30" y="69.76" font-family='"Liberation Serif", serif' font-size="5.0" fill="#1a1a8c" font-weight="bold" font-style="normal" textLength="2.00" lengthAdjust="spacingAndGlyphs" >0</text><text x="651.30" y="55.92" font-family='"Liberation Serif", serif' font-size="8.6" fill="#1a1a8c" font-weight="bold" font-style="normal" textLength="16.70" lengthAdjust="spacingAndGlyphs" >4x10</text><text x="668.30" y="51.82" font-family='"Liberation Serif", serif' font-size="5.0" fill="#1a1a8c" font-weight="bold" font-style="normal" textLength="2.00" lengthAdjust="spacingAndGlyphs" >0</text><line x1="536.00" y1="178.30" x2="536.00" y2="175.80" stroke="#333" stroke-width="0.9" /><text x="532.00" y="189.40" font-family='"Liberation Serif", serif' font-size="8.8" fill="#000" font-weight="bold" font-style="normal" textLength="8.00" lengthAdjust="spacingAndGlyphs" >10</text><line x1="561.00" y1="178.30" x2="561.00" y2="175.80" stroke="#333" stroke-width="0.9" /><text x="559.00" y="189.40" font-family='"Liberation Serif", serif' font-size="8.8" fill="#000" font-weight="bold" font-style="normal" textLength="4.00" lengthAdjust="spacingAndGlyphs" >0</text><line x1="586.00" y1="178.30" x2="586.00" y2="175.80" stroke="#333" stroke-width="0.9" /><text x="579.20" y="189.40" font-family='"Liberation Serif", serif' font-size="8.8" fill="#000" font-weight="bold" font-style="normal" textLength="12.00" lengthAdjust="spacingAndGlyphs" >-10</text><line x1="611.00" y1="178.30" x2="611.00" y2="175.80" stroke="#333" stroke-width="0.9" /><text x="604.20" y="189.40" font-family='"Liberation Serif", serif' font-size="8.8" fill="#000" font-weight="bold" font-style="normal" textLength="12.00" lengthAdjust="spacingAndGlyphs" >-20</text><line x1="636.00" y1="178.30" x2="636.00" y2="175.80" stroke="#333" stroke-width="0.9" /><text x="629.20" y="189.40" font-family='"Liberation Serif", serif' font-size="8.8" fill="#000" font-weight="bold" font-style="normal" textLength="12.00" lengthAdjust="spacingAndGlyphs" >-30</text><line x1="548.50" y1="178.30" x2="548.50" y2="176.80" stroke="#333" stroke-width="0.7" /><line x1="573.50" y1="178.30" x2="573.50" y2="176.80" stroke="#333" stroke-width="0.7" /><line x1="598.50" y1="178.30" x2="598.50" y2="176.80" stroke="#333" stroke-width="0.7" /><line x1="623.50" y1="178.30" x2="623.50" y2="176.80" stroke="#333" stroke-width="0.7" /><line x1="559.40" y1="63.00" x2="559.40" y2="178.30" stroke="#4a64a0" stroke-width="1.0" /><rect x="542.8" y="144.8" width="1.6" height="1.6" fill="#000"/><rect x="550.5" y="143.7" width="1.6" height="1.6" fill="#000"/><rect x="547.8" y="147.6" width="1.6" height="1.6" fill="#000"/><rect x="536.6" y="149.4" width="1.6" height="1.6" fill="#000"/><rect x="536.1" y="148.4" width="1.6" height="1.6" fill="#000"/><rect x="536.8" y="144.0" width="1.6" height="1.6" fill="#000"/><rect x="545.2" y="153.5" width="1.6" height="1.6" fill="#000"/><rect x="538.1" y="145.7" width="1.6" height="1.6" fill="#000"/><rect x="549.9" y="155.1" width="1.6" height="1.6" fill="#000"/><rect x="548.8" y="148.0" width="1.6" height="1.6" fill="#000"/><rect x="558.1" y="143.4" width="1.6" height="1.6" fill="#000"/><rect x="555.4" y="146.6" width="1.6" height="1.6" fill="#000"/><rect x="538.6" y="144.3" width="1.6" height="1.6" fill="#000"/><rect x="542.4" y="153.4" width="1.6" height="1.6" fill="#000"/><rect x="539.4" y="150.4" width="1.6" height="1.6" fill="#000"/><rect x="550.2" y="147.6" width="1.6" height="1.6" fill="#000"/><rect x="548.1" y="143.6" width="1.6" height="1.6" fill="#000"/><rect x="536.6" y="145.5" width="1.6" height="1.6" fill="#000"/><rect x="551.2" y="148.4" width="1.6" height="1.6" fill="#000"/><rect x="542.6" y="150.4" width="1.6" height="1.6" fill="#000"/><rect x="545.8" y="146.7" width="1.6" height="1.6" fill="#000"/><rect x="553.9" y="151.9" width="1.6" height="1.6" fill="#000"/><rect x="540.9" y="150.3" width="1.6" height="1.6" fill="#000"/><rect x="547.5" y="154.2" width="1.6" height="1.6" fill="#000"/><rect x="552.3" y="146.5" width="1.6" height="1.6" fill="#000"/><rect x="558.2" y="144.3" width="1.6" height="1.6" fill="#000"/><rect x="545.0" y="152.6" width="1.6" height="1.6" fill="#000"/><rect x="538.8" y="149.2" width="1.6" height="1.6" fill="#000"/><rect x="536.1" y="151.5" width="1.6" height="1.6" fill="#000"/><rect x="553.2" y="150.2" width="1.6" height="1.6" fill="#000"/><rect x="555.8" y="146.9" width="1.6" height="1.6" fill="#000"/><rect x="551.5" y="150.5" width="1.6" height="1.6" fill="#000"/><rect x="548.8" y="148.7" width="1.6" height="1.6" fill="#000"/><rect x="554.9" y="155.1" width="1.6" height="1.6" fill="#000"/><rect x="546.3" y="151.4" width="1.6" height="1.6" fill="#000"/><rect x="536.6" y="151.9" width="1.6" height="1.6" fill="#000"/><rect x="550.4" y="155.7" width="1.6" height="1.6" fill="#000"/><rect x="554.5" y="146.5" width="1.6" height="1.6" fill="#000"/><rect x="544.3" y="151.5" width="1.6" height="1.6" fill="#000"/><rect x="535.7" y="148.8" width="1.6" height="1.6" fill="#000"/><rect x="539.1" y="144.3" width="1.6" height="1.6" fill="#000"/><rect x="536.6" y="152.8" width="1.6" height="1.6" fill="#000"/><rect x="538.2" y="146.0" width="1.6" height="1.6" fill="#000"/><rect x="544.4" y="154.1" width="1.6" height="1.6" fill="#000"/><rect x="537.1" y="148.6" width="1.6" height="1.6" fill="#000"/><rect x="548.1" y="154.3" width="1.6" height="1.6" fill="#000"/><rect x="554.5" y="154.0" width="1.6" height="1.6" fill="#000"/><rect x="541.7" y="148.2" width="1.6" height="1.6" fill="#000"/><rect x="543.6" y="154.3" width="1.6" height="1.6" fill="#000"/><rect x="557.7" y="144.8" width="1.6" height="1.6" fill="#000"/><rect x="539.3" y="145.8" width="1.6" height="1.6" fill="#000"/><rect x="540.7" y="149.1" width="1.6" height="1.6" fill="#000"/><rect x="549.0" y="146.2" width="1.6" height="1.6" fill="#000"/><rect x="535.3" y="148.2" width="1.6" height="1.6" fill="#000"/><rect x="543.9" y="150.2" width="1.6" height="1.6" fill="#000"/><rect x="557.6" y="151.8" width="1.6" height="1.6" fill="#000"/><rect x="547.3" y="150.8" width="1.6" height="1.6" fill="#000"/><rect x="551.1" y="143.5" width="1.6" height="1.6" fill="#000"/><rect x="556.3" y="152.9" width="1.6" height="1.6" fill="#000"/><rect x="555.8" y="153.2" width="1.6" height="1.6" fill="#000"/><rect x="544.4" y="148.0" width="1.6" height="1.6" fill="#000"/><rect x="537.6" y="151.0" width="1.6" height="1.6" fill="#000"/><rect x="536.7" y="143.7" width="1.6" height="1.6" fill="#000"/><rect x="540.1" y="144.9" width="1.6" height="1.6" fill="#000"/><rect x="543.2" y="143.5" width="1.6" height="1.6" fill="#000"/><rect x="535.2" y="144.8" width="1.6" height="1.6" fill="#000"/><rect x="537.6" y="147.5" width="1.6" height="1.6" fill="#000"/><rect x="535.8" y="154.2" width="1.6" height="1.6" fill="#000"/><rect x="549.6" y="144.7" width="1.6" height="1.6" fill="#000"/><rect x="541.1" y="147.3" width="1.6" height="1.6" fill="#000"/><rect x="543.8" y="144.4" width="1.6" height="1.6" fill="#000"/><rect x="555.2" y="155.7" width="1.6" height="1.6" fill="#000"/><rect x="546.2" y="149.1" width="1.6" height="1.6" fill="#000"/><rect x="537.2" y="144.1" width="1.6" height="1.6" fill="#000"/><rect x="543.3" y="146.2" width="1.6" height="1.6" fill="#000"/><rect x="554.7" y="144.9" width="1.6" height="1.6" fill="#000"/><rect x="535.7" y="155.2" width="1.6" height="1.6" fill="#000"/><rect x="547.6" y="144.7" width="1.6" height="1.6" fill="#000"/><rect x="548.0" y="143.2" width="1.6" height="1.6" fill="#000"/><rect x="547.6" y="155.5" width="1.6" height="1.6" fill="#000"/><rect x="555.5" y="151.9" width="1.6" height="1.6" fill="#000"/><rect x="541.3" y="147.6" width="1.6" height="1.6" fill="#000"/><rect x="539.1" y="152.8" width="1.6" height="1.6" fill="#000"/><rect x="547.7" y="152.9" width="1.6" height="1.6" fill="#000"/><rect x="542.9" y="145.7" width="1.6" height="1.6" fill="#000"/><rect x="554.3" y="155.6" width="1.6" height="1.6" fill="#000"/><rect x="555.2" y="153.3" width="1.6" height="1.6" fill="#000"/><rect x="554.4" y="152.4" width="1.6" height="1.6" fill="#000"/><rect x="540.5" y="149.5" width="1.6" height="1.6" fill="#000"/><rect x="543.6" y="143.2" width="1.6" height="1.6" fill="#000"/><rect x="535.9" y="146.4" width="1.6" height="1.6" fill="#000"/><rect x="541.3" y="151.8" width="1.6" height="1.6" fill="#000"/><rect x="557.7" y="148.6" width="1.6" height="1.6" fill="#000"/><rect x="557.2" y="155.6" width="1.6" height="1.6" fill="#000"/><rect x="557.6" y="147.5" width="1.6" height="1.6" fill="#000"/><rect x="540.4" y="145.7" width="1.6" height="1.6" fill="#000"/><rect x="539.8" y="145.5" width="1.6" height="1.6" fill="#000"/><rect x="549.9" y="154.5" width="1.6" height="1.6" fill="#000"/><rect x="555.0" y="149.0" width="1.6" height="1.6" fill="#000"/><rect x="550.5" y="153.2" width="1.6" height="1.6" fill="#000"/><rect x="537.2" y="151.4" width="1.6" height="1.6" fill="#000"/><rect x="556.6" y="153.0" width="1.6" height="1.6" fill="#000"/><rect x="552.8" y="149.0" width="1.6" height="1.6" fill="#000"/><rect x="539.4" y="153.1" width="1.6" height="1.6" fill="#000"/><rect x="543.0" y="153.2" width="1.6" height="1.6" fill="#000"/><rect x="558.0" y="147.9" width="1.6" height="1.6" fill="#000"/><rect x="544.6" y="155.1" width="1.6" height="1.6" fill="#000"/><rect x="552.2" y="145.0" width="1.6" height="1.6" fill="#000"/><rect x="538.2" y="144.8" width="1.6" height="1.6" fill="#000"/><rect x="556.5" y="153.3" width="1.6" height="1.6" fill="#000"/><rect x="538.6" y="153.5" width="1.6" height="1.6" fill="#000"/><rect x="558.2" y="151.3" width="1.6" height="1.6" fill="#000"/><rect x="543.4" y="149.9" width="1.6" height="1.6" fill="#000"/><rect x="538.3" y="143.0" width="1.6" height="1.6" fill="#000"/><rect x="558.0" y="151.2" width="1.6" height="1.6" fill="#000"/><rect x="547.6" y="154.9" width="1.6" height="1.6" fill="#000"/><rect x="545.4" y="154.1" width="1.6" height="1.6" fill="#000"/><rect x="554.6" y="145.5" width="1.6" height="1.6" fill="#000"/><rect x="541.1" y="146.6" width="1.6" height="1.6" fill="#000"/><rect x="540.9" y="150.4" width="1.6" height="1.6" fill="#000"/><rect x="541.3" y="148.2" width="1.6" height="1.6" fill="#000"/><rect x="538.3" y="154.6" width="1.6" height="1.6" fill="#000"/><rect x="543.5" y="148.8" width="1.6" height="1.6" fill="#000"/><rect x="548.9" y="154.6" width="1.6" height="1.6" fill="#000"/><rect x="545.1" y="154.7" width="1.6" height="1.6" fill="#000"/><rect x="547.0" y="149.7" width="1.6" height="1.6" fill="#000"/><rect x="547.5" y="143.0" width="1.6" height="1.6" fill="#000"/><rect x="545.5" y="145.2" width="1.6" height="1.6" fill="#000"/><rect x="535.3" y="153.2" width="1.6" height="1.6" fill="#000"/><rect x="539.3" y="149.0" width="1.6" height="1.6" fill="#000"/><rect x="552.2" y="150.0" width="1.6" height="1.6" fill="#000"/><rect x="542.9" y="149.5" width="1.6" height="1.6" fill="#000"/><rect x="548.3" y="153.0" width="1.6" height="1.6" fill="#000"/><rect x="537.7" y="150.1" width="1.6" height="1.6" fill="#000"/><rect x="541.0" y="146.4" width="1.6" height="1.6" fill="#000"/><rect x="553.3" y="149.4" width="1.6" height="1.6" fill="#000"/><rect x="548.4" y="152.7" width="1.6" height="1.6" fill="#000"/><rect x="556.6" y="148.6" width="1.6" height="1.6" fill="#000"/><rect x="549.6" y="149.4" width="1.6" height="1.6" fill="#000"/><rect x="547.2" y="151.8" width="1.6" height="1.6" fill="#000"/><rect x="545.8" y="149.7" width="1.6" height="1.6" fill="#000"/><rect x="546.4" y="155.0" width="1.6" height="1.6" fill="#000"/><rect x="551.6" y="154.2" width="1.6" height="1.6" fill="#000"/><rect x="557.3" y="146.2" width="1.6" height="1.6" fill="#000"/><rect x="548.3" y="155.1" width="1.6" height="1.6" fill="#000"/><rect x="554.9" y="144.6" width="1.6" height="1.6" fill="#000"/><rect x="538.1" y="148.5" width="1.6" height="1.6" fill="#000"/><rect x="536.9" y="145.9" width="1.6" height="1.6" fill="#000"/><rect x="536.9" y="151.5" width="1.6" height="1.6" fill="#000"/><rect x="553.6" y="154.5" width="1.6" height="1.6" fill="#000"/><rect x="538.8" y="152.1" width="1.6" height="1.6" fill="#000"/><rect x="550.7" y="144.7" width="1.6" height="1.6" fill="#000"/><rect x="555.9" y="155.4" width="1.6" height="1.6" fill="#000"/><rect x="540.4" y="155.2" width="1.6" height="1.6" fill="#000"/><rect x="544.6" y="149.1" width="1.6" height="1.6" fill="#000"/><rect x="558.5" y="153.6" width="1.6" height="1.6" fill="#000"/><rect x="539.0" y="148.4" width="1.6" height="1.6" fill="#000"/><rect x="547.3" y="147.2" width="1.6" height="1.6" fill="#000"/><rect x="539.8" y="146.9" width="1.6" height="1.6" fill="#000"/><rect x="552.2" y="143.1" width="1.6" height="1.6" fill="#000"/><rect x="548.2" y="148.5" width="1.6" height="1.6" fill="#000"/><rect x="535.6" y="147.1" width="1.6" height="1.6" fill="#000"/><rect x="549.9" y="149.5" width="1.6" height="1.6" fill="#000"/><rect x="536.7" y="155.6" width="1.6" height="1.6" fill="#000"/><rect x="553.7" y="155.4" width="1.6" height="1.6" fill="#000"/><rect x="537.7" y="146.3" width="1.6" height="1.6" fill="#000"/><rect x="536.1" y="152.9" width="1.6" height="1.6" fill="#000"/><rect x="541.6" y="144.5" width="1.6" height="1.6" fill="#000"/><rect x="545.1" y="154.6" width="1.6" height="1.6" fill="#000"/><rect x="554.4" y="146.2" width="1.6" height="1.6" fill="#000"/><rect x="538.7" y="154.7" width="1.6" height="1.6" fill="#000"/><rect x="548.6" y="151.9" width="1.6" height="1.6" fill="#000"/><rect x="537.3" y="143.5" width="1.6" height="1.6" fill="#000"/><rect x="551.4" y="148.3" width="1.6" height="1.6" fill="#000"/><rect x="536.9" y="155.0" width="1.6" height="1.6" fill="#000"/><rect x="550.1" y="153.2" width="1.6" height="1.6" fill="#000"/><rect x="537.2" y="153.9" width="1.6" height="1.6" fill="#000"/><rect x="536.8" y="154.0" width="1.6" height="1.6" fill="#000"/><rect x="545.9" y="147.2" width="1.6" height="1.6" fill="#000"/><rect x="548.2" y="154.8" width="1.6" height="1.6" fill="#000"/><rect x="541.5" y="144.5" width="1.6" height="1.6" fill="#000"/><rect x="547.6" y="145.9" width="1.6" height="1.6" fill="#000"/><rect x="537.8" y="144.9" width="1.6" height="1.6" fill="#000"/><rect x="536.4" y="145.4" width="1.6" height="1.6" fill="#000"/><rect x="542.5" y="146.8" width="1.6" height="1.6" fill="#000"/><rect x="553.0" y="146.6" width="1.6" height="1.6" fill="#000"/><rect x="547.0" y="145.1" width="1.6" height="1.6" fill="#000"/><rect x="543.4" y="143.0" width="1.6" height="1.6" fill="#000"/><rect x="541.1" y="143.0" width="1.6" height="1.6" fill="#000"/><rect x="552.4" y="150.0" width="1.6" height="1.6" fill="#000"/><rect x="539.7" y="149.0" width="1.6" height="1.6" fill="#000"/><rect x="557.2" y="144.2" width="1.6" height="1.6" fill="#000"/><rect x="554.4" y="148.4" width="1.6" height="1.6" fill="#000"/><rect x="546.8" y="153.6" width="1.6" height="1.6" fill="#000"/><rect x="544.4" y="149.4" width="1.6" height="1.6" fill="#000"/><rect x="551.4" y="155.6" width="1.6" height="1.6" fill="#000"/><rect x="543.3" y="153.6" width="1.6" height="1.6" fill="#000"/><rect x="551.8" y="151.1" width="1.6" height="1.6" fill="#000"/><rect x="544.7" y="147.3" width="1.6" height="1.6" fill="#000"/><rect x="536.5" y="144.5" width="1.6" height="1.6" fill="#000"/><rect x="536.9" y="152.4" width="1.6" height="1.6" fill="#000"/><rect x="541.2" y="144.9" width="1.6" height="1.6" fill="#000"/><rect x="537.2" y="153.7" width="1.6" height="1.6" fill="#000"/><rect x="555.7" y="151.5" width="1.6" height="1.6" fill="#000"/><rect x="541.8" y="145.9" width="1.6" height="1.6" fill="#000"/><rect x="542.1" y="148.8" width="1.6" height="1.6" fill="#000"/><rect x="538.9" y="148.6" width="1.6" height="1.6" fill="#000"/><rect x="541.4" y="155.3" width="1.6" height="1.6" fill="#000"/><rect x="558.1" y="149.9" width="1.6" height="1.6" fill="#000"/><rect x="540.9" y="155.4" width="1.6" height="1.6" fill="#000"/><rect x="542.5" y="147.4" width="1.6" height="1.6" fill="#000"/><rect x="535.2" y="147.8" width="1.6" height="1.6" fill="#000"/><rect x="546.4" y="149.3" width="1.6" height="1.6" fill="#000"/><rect x="539.9" y="149.4" width="1.6" height="1.6" fill="#000"/><rect x="535.3" y="146.2" width="1.6" height="1.6" fill="#000"/><rect x="537.3" y="148.0" width="1.6" height="1.6" fill="#000"/><rect x="536.2" y="143.1" width="1.6" height="1.6" fill="#000"/><rect x="542.3" y="145.8" width="1.6" height="1.6" fill="#000"/><rect x="549.0" y="149.7" width="1.6" height="1.6" fill="#000"/><rect x="552.8" y="151.3" width="1.6" height="1.6" fill="#000"/><rect x="552.0" y="154.2" width="1.6" height="1.6" fill="#000"/><rect x="544.4" y="147.0" width="1.6" height="1.6" fill="#000"/><rect x="558.3" y="144.7" width="1.6" height="1.6" fill="#000"/><rect x="552.2" y="151.2" width="1.6" height="1.6" fill="#000"/><rect x="536.2" y="153.7" width="1.6" height="1.6" fill="#000"/><rect x="556.2" y="151.0" width="1.6" height="1.6" fill="#000"/><rect x="552.4" y="153.4" width="1.6" height="1.6" fill="#000"/><rect x="538.5" y="149.6" width="1.6" height="1.6" fill="#000"/><rect x="547.1" y="153.7" width="1.6" height="1.6" fill="#000"/><rect x="554.1" y="153.5" width="1.6" height="1.6" fill="#000"/><rect x="548.9" y="154.4" width="1.6" height="1.6" fill="#000"/><rect x="551.2" y="151.8" width="1.6" height="1.6" fill="#000"/><rect x="540.6" y="143.2" width="1.6" height="1.6" fill="#000"/><rect x="538.3" y="147.5" width="1.6" height="1.6" fill="#000"/><rect x="537.7" y="153.7" width="1.6" height="1.6" fill="#000"/><rect x="548.3" y="151.0" width="1.6" height="1.6" fill="#000"/><rect x="549.9" y="151.6" width="1.6" height="1.6" fill="#000"/><rect x="546.7" y="142.8" width="1.6" height="1.6" fill="#000"/><rect x="553.9" y="152.5" width="1.6" height="1.6" fill="#000"/><rect x="547.0" y="149.8" width="1.6" height="1.6" fill="#000"/><rect x="550.7" y="143.7" width="1.6" height="1.6" fill="#000"/><rect x="552.5" y="146.1" width="1.6" height="1.6" fill="#000"/><rect x="536.9" y="146.3" width="1.6" height="1.6" fill="#000"/><rect x="552.3" y="145.5" width="1.6" height="1.6" fill="#000"/><rect x="552.6" y="155.5" width="1.6" height="1.6" fill="#000"/><rect x="546.8" y="147.8" width="1.6" height="1.6" fill="#000"/><rect x="546.5" y="151.7" width="1.6" height="1.6" fill="#000"/><rect x="553.2" y="150.8" width="1.6" height="1.6" fill="#000"/><rect x="550.3" y="143.8" width="1.6" height="1.6" fill="#000"/><rect x="538.7" y="146.1" width="1.6" height="1.6" fill="#000"/><rect x="552.7" y="146.8" width="1.6" height="1.6" fill="#000"/><rect x="548.5" y="143.0" width="1.6" height="1.6" fill="#000"/><rect x="536.6" y="146.3" width="1.6" height="1.6" fill="#000"/><rect x="551.0" y="151.8" width="1.6" height="1.6" fill="#000"/><rect x="551.1" y="146.6" width="1.6" height="1.6" fill="#000"/><rect x="547.3" y="148.8" width="1.6" height="1.6" fill="#000"/><rect x="546.2" y="144.3" width="1.6" height="1.6" fill="#000"/><rect x="556.2" y="145.4" width="1.6" height="1.6" fill="#000"/><rect x="558.2" y="155.0" width="1.6" height="1.6" fill="#000"/><rect x="535.6" y="148.8" width="1.6" height="1.6" fill="#000"/><path d="M535.20,153.11 L535.43,154.67 L535.66,149.22 L535.89,147.32 L536.12,146.70 L536.35,154.43 L536.58,146.71 L536.81,150.61 L537.04,145.99 L537.27,150.00 L537.50,154.50 L537.73,145.89 L537.96,153.11 L538.19,149.84 L538.42,153.81 L538.65,151.89 L538.88,146.93 L539.11,153.93 L539.34,149.60 L539.57,144.76 L539.80,144.54 L540.03,149.66 L540.26,149.23 L540.49,147.67 L540.72,145.98 L540.95,148.11 L541.18,147.82 L541.41,153.32 L541.64,144.52 L541.87,152.38 L542.10,153.31 L542.33,145.76 L542.56,154.23 L542.79,151.99 L543.02,153.97 L543.25,147.54 L543.48,148.41 L543.71,148.63 L543.94,154.99 L544.17,150.69 L544.40,148.29 L544.63,148.99 L544.86,147.39 L545.09,145.01 L545.32,145.57 L545.55,153.26 L545.78,147.50 L546.01,154.32 L546.24,147.12 L546.47,147.29 L546.70,149.87 L546.93,146.49 L547.16,148.42 L547.39,154.54 L547.62,153.78 L547.85,153.03 L548.08,151.12 L548.31,154.09 L548.54,154.38 L548.77,150.27 L549.00,152.06 L549.23,145.02 L549.46,152.19 L549.69,149.23 L549.92,152.40 L550.15,151.27 L550.38,147.51 L550.61,145.01 L550.84,154.23 L551.07,145.84 L551.30,149.46 L551.53,148.11 L551.76,147.63 L551.99,152.26 L552.22,154.75 L552.45,147.23 L552.68,151.39 L552.91,147.66 L553.14,150.35 L553.37,148.64 L553.60,146.26 L553.83,146.20 L554.06,146.68 L554.29,154.01 L554.52,149.72 L554.75,146.81 L554.98,154.02 L555.21,154.96 L555.44,149.22 L555.67,145.97 L555.90,146.52 L556.13,145.45 L556.36,148.09 L556.59,145.46 L556.82,147.01 L557.05,147.21 L557.28,150.48 L557.51,153.82 L557.74,152.37 L557.97,148.83 L558.20,148.85 L558.43,150.00 L558.66,148.46" stroke="#000" stroke-width="0.8" fill="none" /><rect x="536.6" y="159.6" width="1.8" height="1.8" fill="#000"/><rect x="540.1" y="160.1" width="1.8" height="1.8" fill="#000"/><rect x="545.1" y="160.6" width="1.8" height="1.8" fill="#000"/><rect x="550.4" y="168.8" width="1.8" height="1.8" fill="#000"/><rect x="552.1" y="160.1" width="1.8" height="1.8" fill="#000"/><rect x="555.1" y="161.1" width="1.8" height="1.8" fill="#000"/><rect x="547.1" y="157.6" width="1.8" height="1.8" fill="#000"/><rect x="543.1" y="158.1" width="1.8" height="1.8" fill="#000"/><line x1="551.30" y1="156.00" x2="551.30" y2="169.70" stroke="#000" stroke-width="0.6" /><path d="M560.10,136.50 C560.35,135.25 561.02,131.68 561.60,129.00 C562.18,126.32 562.87,123.23 563.60,120.40 C564.33,117.57 565.23,114.57 566.00,112.00 C566.77,109.43 567.48,107.17 568.20,105.00 C568.92,102.83 569.58,101.03 570.30,99.00 C571.02,96.97 571.67,94.90 572.50,92.80 C573.33,90.70 574.12,88.33 575.30,86.40 C576.48,84.47 577.97,82.53 579.60,81.20 C581.23,79.87 582.87,79.13 585.10,78.40 C587.33,77.67 590.38,77.20 593.00,76.80 C595.62,76.40 598.18,76.25 600.80,76.00 C603.42,75.75 605.17,75.53 608.70,75.30 C612.23,75.07 617.35,74.80 622.00,74.60 C626.65,74.40 634.17,74.18 636.60,74.10" stroke="#000" stroke-width="2.8" fill="none" stroke-linecap="round"/><path d="M535.20,178.30 C539.40,178.30 555.35,178.35 560.40,178.30 C565.45,178.25 564.23,178.17 565.50,178.00 C566.77,177.83 567.32,177.65 568.00,177.30 C568.68,176.95 569.05,176.92 569.60,175.90 C570.15,174.88 570.72,173.78 571.30,171.20 C571.88,168.62 572.42,164.45 573.10,160.40 C573.78,156.35 574.48,151.38 575.40,146.90 C576.32,142.42 577.48,137.98 578.60,133.50 C579.72,129.02 580.90,124.33 582.10,120.00 C583.30,115.67 584.62,110.83 585.80,107.50 C586.98,104.17 587.67,102.63 589.20,100.00 C590.73,97.37 593.07,94.13 595.00,91.70 C596.93,89.27 598.78,87.50 600.80,85.40 C602.82,83.30 604.98,81.13 607.10,79.10 C609.22,77.07 610.42,75.48 613.50,73.20 C616.58,70.92 621.73,67.50 625.60,65.40 C629.47,63.30 634.85,61.40 636.70,60.60" stroke="#0a0a80" stroke-width="3.0" fill="none" stroke-linecap="round"/><path d="M567.8,176 L585.3,92.3" stroke="#ff8020" stroke-width="1.8" fill="none" stroke-dasharray="1.3 1.6"/><text x="527.00" y="72.00" font-family='"Liberation Sans", sans-serif' font-size="9.0" fill="#2222dd" font-weight="normal" font-style="normal" textLength="30.90" lengthAdjust="spacingAndGlyphs" stroke="#2222dd" stroke-width="0.35">Normally-</text><text x="537.80" y="84.70" font-family='"Liberation Sans", sans-serif' font-size="9.0" fill="#2222dd" font-weight="normal" font-style="normal" textLength="9.20" lengthAdjust="spacingAndGlyphs" stroke="#2222dd" stroke-width="0.35">on</text><text x="567.00" y="72.60" font-family='"Liberation Sans", sans-serif' font-size="9.0" fill="#e82828" font-weight="normal" font-style="normal" textLength="40.20" lengthAdjust="spacingAndGlyphs" stroke="#e82828" stroke-width="0.3">Normally-off</text><text x="584.00" y="161.90" font-family='"Liberation Sans", sans-serif' font-size="9.6" fill="#000" font-weight="bold" font-style="normal" textLength="39.00" lengthAdjust="spacingAndGlyphs" ><tspan font-style="italic">V</tspan><tspan font-size="6" dy="1.5">DS</tspan><tspan dy="-1.5">= − 0.5 V</tspan></text><text x="0" y="0" font-family='"Liberation Sans", sans-serif' font-size="11.5" fill="#000" font-weight="normal" textLength="31.60" lengthAdjust="spacingAndGlyphs" transform="translate(502.20,127.00) rotate(-90)"><tspan font-style="italic">I</tspan><tspan font-size="8" dy="2">DS</tspan><tspan dy="-2"> [A]</tspan></text><text x="0" y="0" font-family='"Liberation Sans", sans-serif' font-size="11" fill="#1a1aa8" font-weight="normal" textLength="109.50" lengthAdjust="spacingAndGlyphs" transform="translate(683.30,155.00) rotate(-90)">|<tspan font-style="italic">I</tspan><tspan font-size="8" dy="2">DS</tspan><tspan dy="-2">| [A</tspan><tspan font-size="6.5" dy="-4">0.5</tspan><tspan dy="4">/mm</tspan><tspan font-size="6.5" dy="-4">0.5</tspan><tspan dy="4">]</tspan></text><path d="M678.3,167 L682.6,164.3 L672.3,157.6 L672.3,130.3" stroke="#1a1aa8" stroke-width="1.3" fill="none" stroke-linejoin="round"/><rect x="38.50" y="274.90" width="170.00" height="132.10" fill="none" stroke="#9a9a9a" stroke-width="1.2"/><line x1="38.50" y1="396.00" x2="41.50" y2="396.00" stroke="#8a8a8a" stroke-width="1" /><line x1="38.50" y1="386.83" x2="40.30" y2="386.83" stroke="#8a8a8a" stroke-width="0.8" /><text x="30.60" y="399.30" font-family='"Liberation Serif", serif' font-size="9.8" fill="#000" font-weight="bold" font-style="normal" textLength="5.20" lengthAdjust="spacingAndGlyphs" >0</text><line x1="38.50" y1="377.66" x2="41.50" y2="377.66" stroke="#8a8a8a" stroke-width="1" /><line x1="38.50" y1="368.49" x2="40.30" y2="368.49" stroke="#8a8a8a" stroke-width="0.8" /><text x="22.30" y="380.96" font-family='"Liberation Serif", serif' font-size="9.8" fill="#000" font-weight="bold" font-style="normal" textLength="13.50" lengthAdjust="spacingAndGlyphs" >-50</text><line x1="38.50" y1="359.32" x2="41.50" y2="359.32" stroke="#8a8a8a" stroke-width="1" /><line x1="38.50" y1="350.15" x2="40.30" y2="350.15" stroke="#8a8a8a" stroke-width="0.8" /><text x="17.80" y="362.62" font-family='"Liberation Serif", serif' font-size="9.8" fill="#000" font-weight="bold" font-style="normal" textLength="18.00" lengthAdjust="spacingAndGlyphs" >-100</text><line x1="38.50" y1="340.98" x2="41.50" y2="340.98" stroke="#8a8a8a" stroke-width="1" /><line x1="38.50" y1="331.81" x2="40.30" y2="331.81" stroke="#8a8a8a" stroke-width="0.8" /><text x="17.80" y="344.28" font-family='"Liberation Serif", serif' font-size="9.8" fill="#000" font-weight="bold" font-style="normal" textLength="18.00" lengthAdjust="spacingAndGlyphs" >-150</text><line x1="38.50" y1="322.64" x2="41.50" y2="322.64" stroke="#8a8a8a" stroke-width="1" /><line x1="38.50" y1="313.47" x2="40.30" y2="313.47" stroke="#8a8a8a" stroke-width="0.8" /><text x="17.80" y="325.94" font-family='"Liberation Serif", serif' font-size="9.8" fill="#000" font-weight="bold" font-style="normal" textLength="18.00" lengthAdjust="spacingAndGlyphs" >-200</text><line x1="38.50" y1="304.30" x2="41.50" y2="304.30" stroke="#8a8a8a" stroke-width="1" /><line x1="38.50" y1="295.13" x2="40.30" y2="295.13" stroke="#8a8a8a" stroke-width="0.8" /><text x="17.80" y="307.60" font-family='"Liberation Serif", serif' font-size="9.8" fill="#000" font-weight="bold" font-style="normal" textLength="18.00" lengthAdjust="spacingAndGlyphs" >-250</text><line x1="38.50" y1="285.96" x2="41.50" y2="285.96" stroke="#8a8a8a" stroke-width="1" /><line x1="38.50" y1="276.79" x2="40.30" y2="276.79" stroke="#8a8a8a" stroke-width="0.8" /><text x="17.80" y="289.26" font-family='"Liberation Serif", serif' font-size="9.8" fill="#000" font-weight="bold" font-style="normal" textLength="18.00" lengthAdjust="spacingAndGlyphs" >-300</text><line x1="49.80" y1="407.00" x2="49.80" y2="404.00" stroke="#8a8a8a" stroke-width="1" /><line x1="61.20" y1="407.00" x2="61.20" y2="405.20" stroke="#8a8a8a" stroke-width="0.8" /><text x="47.20" y="418.00" font-family='"Liberation Serif", serif' font-size="9.8" fill="#000" font-weight="bold" font-style="normal" textLength="5.20" lengthAdjust="spacingAndGlyphs" >0</text><line x1="72.67" y1="407.00" x2="72.67" y2="404.00" stroke="#8a8a8a" stroke-width="1" /><line x1="84.08" y1="407.00" x2="84.08" y2="405.20" stroke="#8a8a8a" stroke-width="0.8" /><text x="67.47" y="418.00" font-family='"Liberation Serif", serif' font-size="9.8" fill="#000" font-weight="bold" font-style="normal" textLength="9.00" lengthAdjust="spacingAndGlyphs" >-5</text><line x1="95.55" y1="407.00" x2="95.55" y2="404.00" stroke="#8a8a8a" stroke-width="1" /><line x1="106.95" y1="407.00" x2="106.95" y2="405.20" stroke="#8a8a8a" stroke-width="0.8" /><text x="88.10" y="418.00" font-family='"Liberation Serif", serif' font-size="9.8" fill="#000" font-weight="bold" font-style="normal" textLength="13.50" lengthAdjust="spacingAndGlyphs" >-10</text><line x1="118.42" y1="407.00" x2="118.42" y2="404.00" stroke="#8a8a8a" stroke-width="1" /><line x1="129.82" y1="407.00" x2="129.82" y2="405.20" stroke="#8a8a8a" stroke-width="0.8" /><text x="110.97" y="418.00" font-family='"Liberation Serif", serif' font-size="9.8" fill="#000" font-weight="bold" font-style="normal" textLength="13.50" lengthAdjust="spacingAndGlyphs" >-15</text><line x1="141.30" y1="407.00" x2="141.30" y2="404.00" stroke="#8a8a8a" stroke-width="1" /><line x1="152.70" y1="407.00" x2="152.70" y2="405.20" stroke="#8a8a8a" stroke-width="0.8" /><text x="133.85" y="418.00" font-family='"Liberation Serif", serif' font-size="9.8" fill="#000" font-weight="bold" font-style="normal" textLength="13.50" lengthAdjust="spacingAndGlyphs" >-20</text><line x1="164.18" y1="407.00" x2="164.18" y2="404.00" stroke="#8a8a8a" stroke-width="1" /><line x1="175.58" y1="407.00" x2="175.58" y2="405.20" stroke="#8a8a8a" stroke-width="0.8" /><text x="156.73" y="418.00" font-family='"Liberation Serif", serif' font-size="9.8" fill="#000" font-weight="bold" font-style="normal" textLength="13.50" lengthAdjust="spacingAndGlyphs" >-25</text><line x1="187.05" y1="407.00" x2="187.05" y2="404.00" stroke="#8a8a8a" stroke-width="1" /><line x1="198.45" y1="407.00" x2="198.45" y2="405.20" stroke="#8a8a8a" stroke-width="0.8" /><text x="179.60" y="418.00" font-family='"Liberation Serif", serif' font-size="9.8" fill="#000" font-weight="bold" font-style="normal" textLength="13.50" lengthAdjust="spacingAndGlyphs" >-30</text><line x1="209.93" y1="407.00" x2="209.93" y2="404.00" stroke="#8a8a8a" stroke-width="1" /><line x1="221.33" y1="407.00" x2="221.33" y2="405.20" stroke="#8a8a8a" stroke-width="0.8" /><text x="202.48" y="418.00" font-family='"Liberation Serif", serif' font-size="9.8" fill="#000" font-weight="bold" font-style="normal" textLength="13.50" lengthAdjust="spacingAndGlyphs" >-35</text><path d="M49.80,396.00 L52.09,391.14 L54.38,386.46 L56.66,381.97 L58.95,377.66 L61.24,373.51 L63.52,369.53 L65.81,365.71 L68.10,362.03 L70.39,358.50 L72.67,355.11 L74.96,351.84 L77.25,348.71 L79.54,345.70 L81.82,342.81 L84.11,340.03 L86.40,337.36 L88.69,334.80 L90.97,332.33 L93.26,329.97 L95.55,327.69 L97.84,325.51 L100.12,323.41 L102.41,321.39 L104.70,319.45 L106.99,317.59 L109.28,315.80 L111.56,314.08 L113.85,312.43 L116.14,310.84 L118.42,309.32 L120.71,307.85 L123.00,306.44 L125.29,305.09 L127.58,303.79 L129.86,302.54 L132.15,301.35 L134.44,300.19 L136.72,299.09 L139.01,298.02 L141.30,297.00 L143.59,296.02 L145.88,295.07 L148.16,294.17 L150.45,293.30 L152.74,292.46 L155.03,291.66 L157.31,290.88 L159.60,290.14 L161.89,289.43 L164.18,288.74 L166.46,288.09 L168.75,287.45 L171.04,286.85 L173.32,286.26 L175.61,285.70 L177.90,285.16 L180.19,284.64 L182.48,284.15 L184.76,283.67 L187.05,283.21" stroke="#ff8000" stroke-width="3.0" fill="none" stroke-linejoin="round"/><path d="M49.80,396.00 L52.09,391.90 L54.38,387.95 L56.66,384.14 L58.95,380.46 L61.24,376.90 L63.52,373.48 L65.81,370.17 L68.10,366.98 L70.39,363.90 L72.67,360.93 L74.96,358.06 L77.25,355.30 L79.54,352.63 L81.82,350.05 L84.11,347.57 L86.40,345.17 L88.69,342.86 L90.97,340.63 L93.26,338.47 L95.55,336.39 L97.84,334.39 L100.12,332.45 L102.41,330.59 L104.70,328.78 L106.99,327.05 L109.28,325.37 L111.56,323.75 L113.85,322.19 L116.14,320.68 L118.42,319.23 L120.71,317.82 L123.00,316.47 L125.29,315.16 L127.58,313.90 L129.86,312.69 L132.15,311.51 L134.44,310.38 L136.72,309.29 L139.01,308.23 L141.30,307.21 L143.59,306.23 L145.88,305.28 L148.16,304.37 L150.45,303.49 L152.74,302.64 L155.03,301.82 L157.31,301.02 L159.60,300.26 L161.89,299.52 L164.18,298.81 L166.46,298.12 L168.75,297.46 L171.04,296.82 L173.32,296.20 L175.61,295.61 L177.90,295.03 L180.19,294.48 L182.48,293.94 L184.76,293.43 L187.05,292.93" stroke="#0000ff" stroke-width="3.0" fill="none" stroke-linejoin="round"/><path d="M49.80,396.00 L52.09,392.31 L54.38,388.75 L56.66,385.32 L58.95,382.00 L61.24,378.81 L63.52,375.72 L65.81,372.74 L68.10,369.87 L70.39,367.10 L72.67,364.43 L74.96,361.84 L77.25,359.35 L79.54,356.95 L81.82,354.63 L84.11,352.40 L86.40,350.24 L88.69,348.15 L90.97,346.14 L93.26,344.20 L95.55,342.33 L97.84,340.53 L100.12,338.79 L102.41,337.10 L104.70,335.48 L106.99,333.92 L109.28,332.41 L111.56,330.95 L113.85,329.54 L116.14,328.19 L118.42,326.88 L120.71,325.61 L123.00,324.39 L125.29,323.22 L127.58,322.08 L129.86,320.99 L132.15,319.93 L134.44,318.91 L136.72,317.93 L139.01,316.98 L141.30,316.06 L143.59,315.18 L145.88,314.32 L148.16,313.50 L150.45,312.71 L152.74,311.94 L155.03,311.20 L157.31,310.49 L159.60,309.80 L161.89,309.13 L164.18,308.49 L166.46,307.88 L168.75,307.28 L171.04,306.70 L173.32,306.15 L175.61,305.61 L177.90,305.09 L180.19,304.59 L182.48,304.11 L184.76,303.65 L187.05,303.20" stroke="#9933ff" stroke-width="3.0" fill="none" stroke-linejoin="round"/><path d="M49.80,396.00 L52.09,392.59 L54.38,389.30 L56.66,386.15 L58.95,383.11 L61.24,380.18 L63.52,377.37 L65.81,374.66 L68.10,372.05 L70.39,369.54 L72.67,367.13 L74.96,364.81 L77.25,362.57 L79.54,360.42 L81.82,358.35 L84.11,356.36 L86.40,354.44 L88.69,352.60 L90.97,350.82 L93.26,349.12 L95.55,347.47 L97.84,345.89 L100.12,344.37 L102.41,342.91 L104.70,341.50 L106.99,340.14 L109.28,338.84 L111.56,337.58 L113.85,336.38 L116.14,335.21 L118.42,334.10 L120.71,333.02 L123.00,331.98 L125.29,330.99 L127.58,330.03 L129.86,329.11 L132.15,328.22 L134.44,327.36 L136.72,326.54 L139.01,325.75 L141.30,324.99 L143.59,324.26 L145.88,323.55 L148.16,322.87 L150.45,322.22 L152.74,321.59 L155.03,320.99 L157.31,320.41 L159.60,319.85 L161.89,319.31 L164.18,318.79 L166.46,318.29 L168.75,317.81 L171.04,317.35 L173.32,316.91 L175.61,316.48 L177.90,316.07 L180.19,315.67 L182.48,315.29 L184.76,314.92 L187.05,314.57" stroke="#008000" stroke-width="3.0" fill="none" stroke-linejoin="round"/><path d="M49.80,396.00 L52.09,392.89 L54.38,389.90 L56.66,387.03 L58.95,384.28 L61.24,381.65 L63.52,379.12 L65.81,376.69 L68.10,374.36 L70.39,372.13 L72.67,369.99 L74.96,367.94 L77.25,365.97 L79.54,364.08 L81.82,362.27 L84.11,360.53 L86.40,358.86 L88.69,357.26 L90.97,355.73 L93.26,354.26 L95.55,352.85 L97.84,351.49 L100.12,350.19 L102.41,348.95 L104.70,347.75 L106.99,346.61 L109.28,345.51 L111.56,344.45 L113.85,343.44 L116.14,342.47 L118.42,341.54 L120.71,340.65 L123.00,339.79 L125.29,338.97 L127.58,338.19 L129.86,337.43 L132.15,336.71 L134.44,336.01 L136.72,335.34 L139.01,334.71 L141.30,334.09 L143.59,333.50 L145.88,332.94 L148.16,332.40 L150.45,331.88 L152.74,331.38 L155.03,330.90 L157.31,330.44 L159.60,330.01 L161.89,329.58 L164.18,329.18 L166.46,328.79 L168.75,328.42 L171.04,328.06 L173.32,327.72 L175.61,327.39 L177.90,327.08 L180.19,326.78 L182.48,326.49 L184.76,326.21 L187.05,325.94" stroke="#ff0080" stroke-width="3.0" fill="none" stroke-linejoin="round"/><path d="M49.80,396.00 L52.09,393.26 L54.38,390.65 L56.66,388.15 L58.95,385.76 L61.24,383.47 L63.52,381.29 L65.81,379.21 L68.10,377.22 L70.39,375.31 L72.67,373.49 L74.96,371.76 L77.25,370.09 L79.54,368.51 L81.82,366.99 L84.11,365.54 L86.40,364.16 L88.69,362.83 L90.97,361.57 L93.26,360.36 L95.55,359.21 L97.84,358.10 L100.12,357.05 L102.41,356.04 L104.70,355.08 L106.99,354.16 L109.28,353.28 L111.56,352.44 L113.85,351.64 L116.14,350.87 L118.42,350.14 L120.71,349.44 L123.00,348.77 L125.29,348.13 L127.58,347.52 L129.86,346.94 L132.15,346.38 L134.44,345.85 L136.72,345.34 L139.01,344.85 L141.30,344.38 L143.59,343.94 L145.88,343.52 L148.16,343.11 L150.45,342.72 L152.74,342.35 L155.03,342.00 L157.31,341.66 L159.60,341.34 L161.89,341.03 L164.18,340.73 L166.46,340.45 L168.75,340.18 L171.04,339.92 L173.32,339.68 L175.61,339.44 L177.90,339.22 L180.19,339.00 L182.48,338.80 L184.76,338.60 L187.05,338.41" stroke="#800000" stroke-width="3.0" fill="none" stroke-linejoin="round"/><path d="M49.80,396.00 L52.09,393.79 L54.38,391.69 L56.66,389.68 L58.95,387.77 L61.24,385.94 L63.52,384.20 L65.81,382.54 L68.10,380.96 L70.39,379.45 L72.67,378.01 L74.96,376.64 L77.25,375.33 L79.54,374.09 L81.82,372.90 L84.11,371.77 L86.40,370.68 L88.69,369.65 L90.97,368.67 L93.26,367.73 L95.55,366.84 L97.84,365.99 L100.12,365.18 L102.41,364.40 L104.70,363.66 L106.99,362.96 L109.28,362.29 L111.56,361.65 L113.85,361.04 L116.14,360.46 L118.42,359.90 L120.71,359.37 L123.00,358.87 L125.29,358.39 L127.58,357.93 L129.86,357.49 L132.15,357.07 L134.44,356.68 L136.72,356.30 L139.01,355.94 L141.30,355.59 L143.59,355.26 L145.88,354.95 L148.16,354.65 L150.45,354.37 L152.74,354.09 L155.03,353.83 L157.31,353.59 L159.60,353.35 L161.89,353.13 L164.18,352.91 L166.46,352.71 L168.75,352.51 L171.04,352.33 L173.32,352.15 L175.61,351.98 L177.90,351.82 L180.19,351.67 L182.48,351.52 L184.76,351.38 L187.05,351.25" stroke="#000080" stroke-width="3.0" fill="none" stroke-linejoin="round"/><path d="M49.80,396.00 L52.09,394.21 L54.38,392.52 L56.66,390.92 L58.95,389.41 L61.24,387.97 L63.52,386.62 L65.81,385.34 L68.10,384.13 L70.39,382.98 L72.67,381.89 L74.96,380.87 L77.25,379.90 L79.54,378.98 L81.82,378.11 L84.11,377.29 L86.40,376.51 L88.69,375.78 L90.97,375.08 L93.26,374.42 L95.55,373.80 L97.84,373.21 L100.12,372.66 L102.41,372.13 L104.70,371.63 L106.99,371.16 L109.28,370.71 L111.56,370.29 L113.85,369.89 L116.14,369.52 L118.42,369.16 L120.71,368.82 L123.00,368.50 L125.29,368.20 L127.58,367.91 L129.86,367.64 L132.15,367.39 L134.44,367.14 L136.72,366.92 L139.01,366.70 L141.30,366.49 L143.59,366.30 L145.88,366.12 L148.16,365.94 L150.45,365.78 L152.74,365.62 L155.03,365.48 L157.31,365.34 L159.60,365.21 L161.89,365.08 L164.18,364.97 L166.46,364.85 L168.75,364.75 L171.04,364.65 L173.32,364.56 L175.61,364.47 L177.90,364.38 L180.19,364.30 L182.48,364.23 L184.76,364.16 L187.05,364.09" stroke="#808000" stroke-width="3.0" fill="none" stroke-linejoin="round"/><path d="M49.80,396.00 L52.09,394.72 L54.38,393.53 L56.66,392.41 L58.95,391.36 L61.24,390.39 L63.52,389.47 L65.81,388.62 L68.10,387.81 L70.39,387.07 L72.67,386.36 L74.96,385.71 L77.25,385.10 L79.54,384.52 L81.82,383.98 L84.11,383.48 L86.40,383.01 L88.69,382.57 L90.97,382.16 L93.26,381.78 L95.55,381.42 L97.84,381.08 L100.12,380.77 L102.41,380.47 L104.70,380.20 L106.99,379.94 L109.28,379.70 L111.56,379.47 L113.85,379.26 L116.14,379.06 L118.42,378.88 L120.71,378.70 L123.00,378.54 L125.29,378.39 L127.58,378.25 L129.86,378.12 L132.15,377.99 L134.44,377.88 L136.72,377.77 L139.01,377.67 L141.30,377.57 L143.59,377.48 L145.88,377.40 L148.16,377.32 L150.45,377.25 L152.74,377.18 L155.03,377.12 L157.31,377.06 L159.60,377.00 L161.89,376.95 L164.18,376.90 L166.46,376.86 L168.75,376.82 L171.04,376.78 L173.32,376.74 L175.61,376.70 L177.90,376.67 L180.19,376.64 L182.48,376.61 L184.76,376.58 L187.05,376.56" stroke="#ff00ff" stroke-width="3.0" fill="none" stroke-linejoin="round"/><path d="M49.80,396.00 L52.09,395.47 L54.38,394.98 L56.66,394.53 L58.95,394.12 L61.24,393.73 L63.52,393.38 L65.81,393.06 L68.10,392.77 L70.39,392.49 L72.67,392.24 L74.96,392.01 L77.25,391.80 L79.54,391.60 L81.82,391.42 L84.11,391.26 L86.40,391.10 L88.69,390.96 L90.97,390.84 L93.26,390.72 L95.55,390.61 L97.84,390.51 L100.12,390.42 L102.41,390.33 L104.70,390.25 L106.99,390.18 L109.28,390.11 L111.56,390.05 L113.85,390.00 L116.14,389.95 L118.42,389.90 L120.71,389.85 L123.00,389.81 L125.29,389.78 L127.58,389.74 L129.86,389.71 L132.15,389.68 L134.44,389.66 L136.72,389.63 L139.01,389.61 L141.30,389.59 L143.59,389.57 L145.88,389.55 L148.16,389.54 L150.45,389.52 L152.74,389.51 L155.03,389.50 L157.31,389.49 L159.60,389.47 L161.89,389.46 L164.18,389.46 L166.46,389.45 L168.75,389.44 L171.04,389.43 L173.32,389.43 L175.61,389.42 L177.90,389.42 L180.19,389.41 L182.48,389.41 L184.76,389.40 L187.05,389.40" stroke="#008080" stroke-width="3.0" fill="none" stroke-linejoin="round"/><path d="M49.80,396.00 L52.09,395.98 L54.38,395.97 L56.66,395.96 L58.95,395.95 L61.24,395.94 L63.52,395.93 L65.81,395.92 L68.10,395.92 L70.39,395.91 L72.67,395.91 L74.96,395.91 L77.25,395.90 L79.54,395.90 L81.82,395.90 L84.11,395.90 L86.40,395.90 L88.69,395.90 L90.97,395.90 L93.26,395.89 L95.55,395.89 L97.84,395.89 L100.12,395.89 L102.41,395.89 L104.70,395.89 L106.99,395.89 L109.28,395.89 L111.56,395.89 L113.85,395.89 L116.14,395.89 L118.42,395.89 L120.71,395.89 L123.00,395.89 L125.29,395.89 L127.58,395.89 L129.86,395.89 L132.15,395.89 L134.44,395.89 L136.72,395.89 L139.01,395.89 L141.30,395.89 L143.59,395.89 L145.88,395.89 L148.16,395.89 L150.45,395.89 L152.74,395.89 L155.03,395.89 L157.31,395.89 L159.60,395.89 L161.89,395.89 L164.18,395.89 L166.46,395.89 L168.75,395.89 L171.04,395.89 L173.32,395.89 L175.61,395.89 L177.90,395.89 L180.19,395.89 L182.48,395.89 L184.76,395.89 L187.05,395.89" stroke="#e02020" stroke-width="1.2" fill="none" stroke-linejoin="round"/><path d="M49.80,396.00 L52.09,395.93 L54.38,395.88 L56.66,395.83 L58.95,395.79 L61.24,395.75 L63.52,395.72 L65.81,395.70 L68.10,395.68 L70.39,395.66 L72.67,395.64 L74.96,395.63 L77.25,395.62 L79.54,395.61 L81.82,395.60 L84.11,395.60 L86.40,395.59 L88.69,395.59 L90.97,395.58 L93.26,395.58 L95.55,395.58 L97.84,395.57 L100.12,395.57 L102.41,395.57 L104.70,395.57 L106.99,395.57 L109.28,395.57 L111.56,395.56 L113.85,395.56 L116.14,395.56 L118.42,395.56 L120.71,395.56 L123.00,395.56 L125.29,395.56 L127.58,395.56 L129.86,395.56 L132.15,395.56 L134.44,395.56 L136.72,395.56 L139.01,395.56 L141.30,395.56 L143.59,395.56 L145.88,395.56 L148.16,395.56 L150.45,395.56 L152.74,395.56 L155.03,395.56 L157.31,395.56 L159.60,395.56 L161.89,395.56 L164.18,395.56 L166.46,395.56 L168.75,395.56 L171.04,395.56 L173.32,395.56 L175.61,395.56 L177.90,395.56 L180.19,395.56 L182.48,395.56 L184.76,395.56 L187.05,395.56" stroke="#0000ff" stroke-width="3.0" fill="none" stroke-linejoin="round"/><rect x="194.60" y="283.00" width="1.70" height="104.00" fill="url(#yarr)" /><polygon points="195.50,392.50 192.50,385.50 198.50,385.50" fill="#ffc000" /><text x="43.50" y="287.40" font-family='"Liberation Sans", sans-serif' font-size="9.2" fill="#000" font-weight="bold" font-style="normal" textLength="104.10" lengthAdjust="spacingAndGlyphs" ><tspan font-style="italic">I</tspan><tspan font-size="6" dy="1.6">DS max</tspan><tspan dy="-1.6">=</tspan><tspan fill="#e82020">− 305.0</tspan> mA/mm</text><text x="48.80" y="304.60" font-family='"Liberation Sans", sans-serif' font-size="9.2" fill="#000" font-weight="bold" font-style="normal" textLength="66.70" lengthAdjust="spacingAndGlyphs" ><tspan font-style="italic">R</tspan><tspan font-size="6.5" dy="1.6">ON</tspan><tspan dy="-1.6">=</tspan><tspan fill="#e82020">41.9</tspan> Ωmm</text><text x="48.80" y="318.00" font-family='"Liberation Sans", sans-serif' font-size="9.2" fill="#000" font-weight="bold" font-style="normal" textLength="41.00" lengthAdjust="spacingAndGlyphs" >L<tspan font-size="6.5" dy="1.6">CH</tspan><tspan dy="-1.6">=4 UM</tspan></text><text x="158.70" y="283.80" font-family='"Liberation Sans", sans-serif' font-size="9.4" fill="#000" font-weight="normal" font-style="normal" textLength="48.50" lengthAdjust="spacingAndGlyphs" ><tspan font-style="italic">V</tspan><tspan font-size="6.5" dy="1.8">GS</tspan><tspan dy="-1.8">= − 40 V</tspan></text><text x="189.00" y="402.30" font-family='"Liberation Sans", sans-serif' font-size="9.4" fill="#000" font-weight="normal" font-style="normal" textLength="14.20" lengthAdjust="spacingAndGlyphs" >0 V</text><text x="0" y="0" font-family='"Liberation Sans", sans-serif' font-size="13" fill="#000" font-weight="normal" textLength="81.50" lengthAdjust="spacingAndGlyphs" transform="translate(11.30,379.50) rotate(-90)"><tspan font-style="italic">I</tspan><tspan font-size="9" dy="2">DS</tspan><tspan dy="-2"> [mA/mm]</tspan></text><text x="100.00" y="435.50" font-family='"Liberation Sans", sans-serif' font-size="13.5" fill="#000" font-weight="normal" font-style="normal" textLength="35.10" lengthAdjust="spacingAndGlyphs" ><tspan font-style="italic">V</tspan><tspan font-size="9" dy="2">DS</tspan><tspan dy="-2"> [V]</tspan></text><rect x="320.77" y="392.05" width="7.88" height="21.45" fill="#ffff00" stroke="#a8a860" stroke-width="0.5"/><rect x="336.52" y="392.05" width="7.88" height="21.45" fill="#ffff00" stroke="#a8a860" stroke-width="0.5"/><rect x="344.40" y="370.60" width="7.88" height="42.90" fill="#ffff00" stroke="#a8a860" stroke-width="0.5"/><rect x="352.27" y="392.05" width="7.88" height="21.45" fill="#ffff00" stroke="#a8a860" stroke-width="0.5"/><rect x="360.15" y="370.60" width="7.88" height="42.90" fill="#ffff00" stroke="#a8a860" stroke-width="0.5"/><rect x="375.90" y="284.80" width="7.88" height="128.70" fill="#ffff00" stroke="#a8a860" stroke-width="0.5"/><rect x="391.65" y="349.15" width="7.88" height="64.35" fill="#ffff00" stroke="#a8a860" stroke-width="0.5"/><rect x="399.52" y="349.15" width="7.88" height="64.35" fill="#ffff00" stroke="#a8a860" stroke-width="0.5"/><rect x="407.40" y="349.15" width="7.88" height="64.35" fill="#ffff00" stroke="#a8a860" stroke-width="0.5"/><rect x="415.27" y="392.05" width="7.88" height="21.45" fill="#ffff00" stroke="#a8a860" stroke-width="0.5"/><rect x="423.15" y="349.15" width="7.88" height="64.35" fill="#ffff00" stroke="#a8a860" stroke-width="0.5"/><rect x="431.02" y="392.05" width="7.88" height="21.45" fill="#ffff00" stroke="#a8a860" stroke-width="0.5"/><rect x="438.90" y="327.70" width="7.88" height="85.80" fill="#ffff00" stroke="#a8a860" stroke-width="0.5"/><rect x="281.40" y="274.70" width="173.40" height="138.80" fill="none" stroke="#555" stroke-width="1.1"/><line x1="281.40" y1="413.50" x2="284.40" y2="413.50" stroke="#555" stroke-width="1" /><line x1="281.40" y1="402.85" x2="283.40" y2="402.85" stroke="#555" stroke-width="0.8" /><text x="273.80" y="416.90" font-family='"Liberation Serif", serif' font-size="10.0" fill="#000" font-weight="normal" font-style="normal" textLength="5.40" lengthAdjust="spacingAndGlyphs" >0</text><line x1="281.40" y1="392.05" x2="284.40" y2="392.05" stroke="#555" stroke-width="1" /><line x1="281.40" y1="381.40" x2="283.40" y2="381.40" stroke="#555" stroke-width="0.8" /><text x="273.80" y="395.45" font-family='"Liberation Serif", serif' font-size="10.0" fill="#000" font-weight="normal" font-style="normal" textLength="5.40" lengthAdjust="spacingAndGlyphs" >1</text><line x1="281.40" y1="370.60" x2="284.40" y2="370.60" stroke="#555" stroke-width="1" /><line x1="281.40" y1="359.95" x2="283.40" y2="359.95" stroke="#555" stroke-width="0.8" /><text x="273.80" y="374.00" font-family='"Liberation Serif", serif' font-size="10.0" fill="#000" font-weight="normal" font-style="normal" textLength="5.40" lengthAdjust="spacingAndGlyphs" >2</text><line x1="281.40" y1="349.15" x2="284.40" y2="349.15" stroke="#555" stroke-width="1" /><line x1="281.40" y1="338.50" x2="283.40" y2="338.50" stroke="#555" stroke-width="0.8" /><text x="273.80" y="352.55" font-family='"Liberation Serif", serif' font-size="10.0" fill="#000" font-weight="normal" font-style="normal" textLength="5.40" lengthAdjust="spacingAndGlyphs" >3</text><line x1="281.40" y1="327.70" x2="284.40" y2="327.70" stroke="#555" stroke-width="1" /><line x1="281.40" y1="317.05" x2="283.40" y2="317.05" stroke="#555" stroke-width="0.8" /><text x="273.80" y="331.10" font-family='"Liberation Serif", serif' font-size="10.0" fill="#000" font-weight="normal" font-style="normal" textLength="5.40" lengthAdjust="spacingAndGlyphs" >4</text><line x1="281.40" y1="306.25" x2="284.40" y2="306.25" stroke="#555" stroke-width="1" /><line x1="281.40" y1="295.60" x2="283.40" y2="295.60" stroke="#555" stroke-width="0.8" /><text x="273.80" y="309.65" font-family='"Liberation Serif", serif' font-size="10.0" fill="#000" font-weight="normal" font-style="normal" textLength="5.40" lengthAdjust="spacingAndGlyphs" >5</text><line x1="281.40" y1="284.80" x2="284.40" y2="284.80" stroke="#555" stroke-width="1" /><text x="273.80" y="288.20" font-family='"Liberation Serif", serif' font-size="10.0" fill="#000" font-weight="normal" font-style="normal" textLength="5.40" lengthAdjust="spacingAndGlyphs" >6</text><line x1="281.40" y1="413.50" x2="281.40" y2="410.50" stroke="#555" stroke-width="1" /><text x="272.30" y="424.60" font-family='"Liberation Serif", serif' font-size="10.0" fill="#000" font-weight="normal" font-style="normal" textLength="17.60" lengthAdjust="spacingAndGlyphs" >-200</text><line x1="312.90" y1="413.50" x2="312.90" y2="410.50" stroke="#555" stroke-width="1" /><line x1="328.65" y1="413.50" x2="328.65" y2="411.50" stroke="#555" stroke-width="0.8" /><text x="303.80" y="424.60" font-family='"Liberation Serif", serif' font-size="10.0" fill="#000" font-weight="normal" font-style="normal" textLength="17.60" lengthAdjust="spacingAndGlyphs" >-220</text><line x1="344.40" y1="413.50" x2="344.40" y2="410.50" stroke="#555" stroke-width="1" /><line x1="360.15" y1="413.50" x2="360.15" y2="411.50" stroke="#555" stroke-width="0.8" /><text x="335.30" y="424.60" font-family='"Liberation Serif", serif' font-size="10.0" fill="#000" font-weight="normal" font-style="normal" textLength="17.60" lengthAdjust="spacingAndGlyphs" >-240</text><line x1="375.90" y1="413.50" x2="375.90" y2="410.50" stroke="#555" stroke-width="1" /><line x1="391.65" y1="413.50" x2="391.65" y2="411.50" stroke="#555" stroke-width="0.8" /><text x="366.80" y="424.60" font-family='"Liberation Serif", serif' font-size="10.0" fill="#000" font-weight="normal" font-style="normal" textLength="17.60" lengthAdjust="spacingAndGlyphs" >-260</text><line x1="407.40" y1="413.50" x2="407.40" y2="410.50" stroke="#555" stroke-width="1" /><line x1="423.15" y1="413.50" x2="423.15" y2="411.50" stroke="#555" stroke-width="0.8" /><text x="398.30" y="424.60" font-family='"Liberation Serif", serif' font-size="10.0" fill="#000" font-weight="normal" font-style="normal" textLength="17.60" lengthAdjust="spacingAndGlyphs" >-280</text><line x1="438.90" y1="413.50" x2="438.90" y2="410.50" stroke="#555" stroke-width="1" /><line x1="454.65" y1="413.50" x2="454.65" y2="411.50" stroke="#555" stroke-width="0.8" /><text x="429.80" y="424.60" font-family='"Liberation Serif", serif' font-size="10.0" fill="#000" font-weight="normal" font-style="normal" textLength="17.60" lengthAdjust="spacingAndGlyphs" >-300</text><text x="286.40" y="266.80" font-family='"Liberation Serif", serif' font-size="9.5" fill="#000" font-weight="normal" font-style="normal" textLength="32.60" lengthAdjust="spacingAndGlyphs" >Total: 33</text><text x="414.40" y="270.70" font-family='"Liberation Serif", serif' font-size="9.5" fill="#000" font-weight="normal" font-style="normal" textLength="37.90" lengthAdjust="spacingAndGlyphs" ><tspan font-style="italic">L</tspan><tspan font-size="6.5" dy="1.8">ch</tspan><tspan dy="-1.8">=4 μm</tspan></text><text x="290.50" y="305.80" font-family='"Liberation Sans", sans-serif' font-size="7.0" fill="#000" font-weight="bold" font-style="normal" textLength="76.20" lengthAdjust="spacingAndGlyphs" ><tspan font-style="italic">I</tspan><tspan font-size="4.8" dy="1.3">DS AVE</tspan><tspan dy="-1.3">=</tspan><tspan fill="#e82020">−272.5 mA/mm</tspan></text><text x="290.50" y="316.00" font-family='"Liberation Sans", sans-serif' font-size="7.0" fill="#000" font-weight="bold" font-style="normal" textLength="82.80" lengthAdjust="spacingAndGlyphs" >@<tspan font-style="italic">V</tspan><tspan font-size="4.8" dy="1.3">DS</tspan><tspan dy="-1.3">= − 30 V, </tspan><tspan font-style="italic">V</tspan><tspan font-size="4.8" dy="1.3">GS</tspan><tspan dy="-1.3">= − 40 V</tspan></text><text x="281.10" y="440.70" font-family='"Liberation Serif", serif' font-size="12.8" fill="#000" font-weight="normal" font-style="normal" textLength="163.50" lengthAdjust="spacingAndGlyphs" >Drain current Density [mA/mm]</text><text x="0" y="0" font-family='"Liberation Serif", serif' font-size="14.0" fill="#000" font-weight="normal" textLength="111.40" lengthAdjust="spacingAndGlyphs" transform="translate(266.00,404.20) rotate(-90)">Number of Devices</text><line x1="536.50" y1="267.60" x2="677.70" y2="267.60" stroke="#505050" stroke-width="1.1" /><line x1="536.50" y1="267.60" x2="536.50" y2="413.10" stroke="#9a9a9a" stroke-width="1.0" stroke-dasharray="1.2 0.8"/><line x1="677.70" y1="267.60" x2="677.70" y2="413.10" stroke="#9a9a9a" stroke-width="1.1" /><line x1="536.50" y1="413.10" x2="677.70" y2="413.10" stroke="#404040" stroke-width="1.1" /><text x="507.50" y="289.00" font-family='"Liberation Serif", serif' font-size="14.2" fill="#000" font-weight="normal" font-style="normal" textLength="22.00" lengthAdjust="spacingAndGlyphs" >4x10</text><text x="529.70" y="281.40" font-family='"Liberation Serif", serif' font-size="8.2" fill="#000" font-weight="normal" font-style="normal" textLength="3.60" lengthAdjust="spacingAndGlyphs" >0</text><text x="506.10" y="311.30" font-family='"Liberation Serif", serif' font-size="14.2" fill="#000" font-weight="normal" font-style="normal" textLength="22.00" lengthAdjust="spacingAndGlyphs" >4x10</text><text x="528.30" y="303.70" font-family='"Liberation Serif", serif' font-size="8.2" fill="#000" font-weight="normal" font-style="normal" textLength="5.00" lengthAdjust="spacingAndGlyphs" >-2</text><text x="506.10" y="334.50" font-family='"Liberation Serif", serif' font-size="14.2" fill="#000" font-weight="normal" font-style="normal" textLength="22.00" lengthAdjust="spacingAndGlyphs" >4x10</text><text x="528.30" y="326.90" font-family='"Liberation Serif", serif' font-size="8.2" fill="#000" font-weight="normal" font-style="normal" textLength="5.00" lengthAdjust="spacingAndGlyphs" >-4</text><text x="506.10" y="357.30" font-family='"Liberation Serif", serif' font-size="14.2" fill="#000" font-weight="normal" font-style="normal" textLength="22.00" lengthAdjust="spacingAndGlyphs" >4x10</text><text x="528.30" y="349.70" font-family='"Liberation Serif", serif' font-size="8.2" fill="#000" font-weight="normal" font-style="normal" textLength="5.00" lengthAdjust="spacingAndGlyphs" >-6</text><text x="506.10" y="378.50" font-family='"Liberation Serif", serif' font-size="14.2" fill="#000" font-weight="normal" font-style="normal" textLength="22.00" lengthAdjust="spacingAndGlyphs" >4x10</text><text x="528.30" y="370.90" font-family='"Liberation Serif", serif' font-size="8.2" fill="#000" font-weight="normal" font-style="normal" textLength="5.00" lengthAdjust="spacingAndGlyphs" >-8</text><text x="502.50" y="399.70" font-family='"Liberation Serif", serif' font-size="14.2" fill="#000" font-weight="normal" font-style="normal" textLength="22.00" lengthAdjust="spacingAndGlyphs" >4x10</text><text x="524.70" y="392.10" font-family='"Liberation Serif", serif' font-size="8.2" fill="#000" font-weight="normal" font-style="normal" textLength="8.60" lengthAdjust="spacingAndGlyphs" >-10</text><line x1="536.50" y1="272.80" x2="538.50" y2="272.80" stroke="#606060" stroke-width="0.8" /><line x1="536.50" y1="283.87" x2="538.50" y2="283.87" stroke="#606060" stroke-width="0.8" /><line x1="536.50" y1="294.94" x2="538.50" y2="294.94" stroke="#606060" stroke-width="0.8" /><line x1="536.50" y1="306.01" x2="538.50" y2="306.01" stroke="#606060" stroke-width="0.8" /><line x1="536.50" y1="317.08" x2="538.50" y2="317.08" stroke="#606060" stroke-width="0.8" /><line x1="536.50" y1="328.15" x2="538.50" y2="328.15" stroke="#606060" stroke-width="0.8" /><line x1="536.50" y1="339.22" x2="538.50" y2="339.22" stroke="#606060" stroke-width="0.8" /><line x1="536.50" y1="350.29" x2="538.50" y2="350.29" stroke="#606060" stroke-width="0.8" /><line x1="536.50" y1="361.36" x2="538.50" y2="361.36" stroke="#606060" stroke-width="0.8" /><line x1="536.50" y1="372.43" x2="538.50" y2="372.43" stroke="#606060" stroke-width="0.8" /><line x1="536.50" y1="383.50" x2="538.50" y2="383.50" stroke="#606060" stroke-width="0.8" /><line x1="536.50" y1="394.57" x2="538.50" y2="394.57" stroke="#606060" stroke-width="0.8" /><line x1="536.50" y1="405.64" x2="538.50" y2="405.64" stroke="#606060" stroke-width="0.8" /><line x1="536.50" y1="416.71" x2="538.50" y2="416.71" stroke="#606060" stroke-width="0.8" /><line x1="553.60" y1="413.10" x2="553.60" y2="410.60" stroke="#404040" stroke-width="1" /><text x="550.50" y="428.50" font-family='"Liberation Serif", serif' font-size="14.6" fill="#000" font-weight="normal" font-style="normal" textLength="6.20" lengthAdjust="spacingAndGlyphs" >0</text><line x1="589.24" y1="413.10" x2="589.24" y2="410.60" stroke="#404040" stroke-width="1" /><text x="578.49" y="428.50" font-family='"Liberation Serif", serif' font-size="14.6" fill="#000" font-weight="normal" font-style="normal" textLength="19.90" lengthAdjust="spacingAndGlyphs" >-400</text><line x1="624.88" y1="413.10" x2="624.88" y2="410.60" stroke="#404040" stroke-width="1" /><text x="614.13" y="428.50" font-family='"Liberation Serif", serif' font-size="14.6" fill="#000" font-weight="normal" font-style="normal" textLength="19.90" lengthAdjust="spacingAndGlyphs" >-800</text><line x1="660.52" y1="413.10" x2="660.52" y2="410.60" stroke="#404040" stroke-width="1" /><text x="646.97" y="428.50" font-family='"Liberation Serif", serif' font-size="14.6" fill="#000" font-weight="normal" font-style="normal" textLength="25.50" lengthAdjust="spacingAndGlyphs" >-1200</text><line x1="571.42" y1="413.10" x2="571.42" y2="411.60" stroke="#404040" stroke-width="0.7" /><line x1="607.06" y1="413.10" x2="607.06" y2="411.60" stroke="#404040" stroke-width="0.7" /><line x1="642.70" y1="413.10" x2="642.70" y2="411.60" stroke="#404040" stroke-width="0.7" /><path d="M552.50,364.51 L552.95,363.59 L553.40,364.14 L553.85,366.12 L554.30,363.50 L554.75,364.54 L555.20,364.82 L555.65,365.43 L556.10,363.39 L556.55,363.46 L557.00,363.30 L557.45,363.66 L557.90,363.71 L558.35,365.14 L558.80,364.73 L559.25,364.70 L559.70,362.06 L560.15,361.99 L560.60,363.93 L561.05,364.39 L561.50,363.03 L561.95,363.28 L562.40,361.43 L562.85,362.51 L563.30,364.02 L563.75,363.62 L564.20,363.61 L564.65,363.87 L565.10,361.60 L565.55,361.09 L566.00,361.13 L566.45,362.14 L566.90,362.53 L567.35,363.21 L567.80,362.46 L568.25,362.14 L568.70,362.40 L569.15,361.38 L569.60,361.57 L570.05,359.94 L570.50,362.07 L570.95,360.33 L571.40,362.30 L571.85,361.38 L572.30,360.26 L572.75,359.64 L573.20,359.92 L573.65,360.98 L574.10,361.07 L574.55,359.21 L575.00,358.99 L575.45,360.26 L575.90,360.34 L576.35,359.66 L576.80,359.08 L577.25,360.12 L577.70,358.25 L578.15,359.03 L578.60,359.41 L579.05,360.81 L579.50,359.77 L579.95,360.40 L580.40,359.08 L580.85,358.26 L581.30,358.20 L581.75,360.25 L582.20,359.39 L582.65,358.10 L583.10,357.15 L583.55,358.49 L584.00,358.92 L584.45,358.06 L584.90,357.48 L585.35,358.62 L585.80,359.30 L586.25,357.11 L586.70,356.43 L587.15,357.25 L587.60,357.40 L588.05,358.10 L588.50,356.55 L588.95,358.25 L589.40,357.98 L589.85,357.19 L590.30,356.90 L590.75,357.26 L591.20,356.77 L591.65,356.99 L592.10,356.54 L592.55,356.44 L593.00,356.67 L593.45,356.29 L593.90,356.59 L594.35,356.22 L594.80,355.95 L595.25,355.87 L595.70,355.89 L596.15,355.95 L596.60,356.03 L597.05,355.45 L597.50,355.50 L597.95,355.30 L598.40,355.66 L598.85,355.07 L599.30,354.92 L599.75,354.83 L600.20,354.94 L600.65,355.15 L601.10,355.04 L601.55,354.86 L602.00,354.92 L602.45,354.79 L602.90,354.33 L603.35,354.15 L603.80,354.51 L604.25,354.30 L604.70,353.78 L605.15,354.06 L605.60,353.80 L606.05,353.70 L606.50,353.58 L606.95,353.39 L607.40,353.19 L607.85,353.27 L608.30,353.21 L608.75,353.48 L609.20,352.89 L609.65,353.30 L610.10,352.75 L610.55,352.75 L611.00,352.93 L611.45,352.84 L611.90,352.51 L612.35,352.18 L612.80,352.34 L613.25,352.19 L613.70,352.42 L614.15,351.89 L614.60,351.90 L615.05,352.13 L615.50,351.51 L615.95,351.65 L616.40,351.79 L616.85,351.67 L617.30,351.14 L617.75,351.04 L618.20,350.97 L618.65,351.39 L619.10,350.89 L619.55,351.09 L620.00,351.09 L620.45,350.66 L620.90,350.53 L621.35,350.84 L621.80,350.54 L622.25,350.24 L622.70,350.41 L623.15,350.08 L623.60,349.96 L624.05,349.70 L624.50,350.06 L624.95,350.06 L625.40,349.80 L625.85,349.89 L626.30,349.24 L626.75,349.28 L627.20,349.33 L627.65,349.52 L628.10,349.43 L628.55,348.99 L629.00,348.81 L629.45,348.83 L629.90,348.77 L630.35,348.94 L630.80,348.40 L631.25,348.67 L631.70,348.54 L632.15,348.50 L632.60,348.37 L633.05,348.18 L633.50,347.92" stroke="#ff0000" stroke-width="3.0" fill="none" stroke-linejoin="round"/><rect x="564.6" y="361.8" width="1.7" height="1.7" fill="#ff0000"/><rect x="582.2" y="355.7" width="1.7" height="1.7" fill="#ff0000"/><rect x="560.0" y="366.0" width="1.7" height="1.7" fill="#ff0000"/><rect x="561.9" y="360.0" width="1.7" height="1.7" fill="#ff0000"/><rect x="553.8" y="365.7" width="1.7" height="1.7" fill="#ff0000"/><rect x="564.9" y="366.7" width="1.7" height="1.7" fill="#ff0000"/><rect x="586.1" y="360.4" width="1.7" height="1.7" fill="#ff0000"/><rect x="562.6" y="360.1" width="1.7" height="1.7" fill="#ff0000"/><rect x="556.2" y="364.7" width="1.7" height="1.7" fill="#ff0000"/><rect x="579.5" y="358.5" width="1.7" height="1.7" fill="#ff0000"/><rect x="561.4" y="363.0" width="1.7" height="1.7" fill="#ff0000"/><rect x="576.1" y="360.6" width="1.7" height="1.7" fill="#ff0000"/><rect x="580.9" y="360.6" width="1.7" height="1.7" fill="#ff0000"/><rect x="577.7" y="356.9" width="1.7" height="1.7" fill="#ff0000"/><rect x="584.5" y="356.6" width="1.7" height="1.7" fill="#ff0000"/><rect x="574.0" y="360.0" width="1.7" height="1.7" fill="#ff0000"/><rect x="580.5" y="356.8" width="1.7" height="1.7" fill="#ff0000"/><rect x="561.9" y="361.5" width="1.7" height="1.7" fill="#ff0000"/><rect x="558.3" y="367.4" width="1.7" height="1.7" fill="#ff0000"/><rect x="574.5" y="359.5" width="1.7" height="1.7" fill="#ff0000"/><rect x="567.6" y="366.3" width="1.7" height="1.7" fill="#ff0000"/><rect x="571.8" y="359.3" width="1.7" height="1.7" fill="#ff0000"/><rect x="583.2" y="359.0" width="1.7" height="1.7" fill="#ff0000"/><rect x="590.2" y="354.2" width="1.7" height="1.7" fill="#ff0000"/><rect x="570.5" y="364.3" width="1.7" height="1.7" fill="#ff0000"/><rect x="584.4" y="360.3" width="1.7" height="1.7" fill="#ff0000"/><rect x="554.0" y="363.5" width="1.7" height="1.7" fill="#ff0000"/><rect x="557.0" y="362.1" width="1.7" height="1.7" fill="#ff0000"/><rect x="589.5" y="357.2" width="1.7" height="1.7" fill="#ff0000"/><rect x="587.8" y="356.3" width="1.7" height="1.7" fill="#ff0000"/><rect x="585.4" y="357.3" width="1.7" height="1.7" fill="#ff0000"/><rect x="562.4" y="365.7" width="1.7" height="1.7" fill="#ff0000"/><rect x="588.4" y="354.6" width="1.7" height="1.7" fill="#ff0000"/><rect x="575.2" y="360.5" width="1.7" height="1.7" fill="#ff0000"/><rect x="560.8" y="362.7" width="1.7" height="1.7" fill="#ff0000"/><rect x="557.9" y="362.0" width="1.7" height="1.7" fill="#ff0000"/><rect x="562.2" y="364.3" width="1.7" height="1.7" fill="#ff0000"/><rect x="577.3" y="357.5" width="1.7" height="1.7" fill="#ff0000"/><rect x="552.9" y="364.0" width="1.7" height="1.7" fill="#ff0000"/><rect x="578.3" y="357.2" width="1.7" height="1.7" fill="#ff0000"/><rect x="564.4" y="360.6" width="1.7" height="1.7" fill="#ff0000"/><rect x="582.7" y="358.5" width="1.7" height="1.7" fill="#ff0000"/><rect x="554.9" y="361.8" width="1.7" height="1.7" fill="#ff0000"/><rect x="567.5" y="362.8" width="1.7" height="1.7" fill="#ff0000"/><rect x="576.8" y="357.0" width="1.7" height="1.7" fill="#ff0000"/><rect x="558.7" y="365.8" width="1.7" height="1.7" fill="#ff0000"/><rect x="568.1" y="360.5" width="1.7" height="1.7" fill="#ff0000"/><rect x="564.2" y="366.7" width="1.7" height="1.7" fill="#ff0000"/><rect x="564.4" y="363.5" width="1.7" height="1.7" fill="#ff0000"/><rect x="566.1" y="362.0" width="1.7" height="1.7" fill="#ff0000"/><rect x="585.3" y="360.6" width="1.7" height="1.7" fill="#ff0000"/><rect x="566.3" y="360.2" width="1.7" height="1.7" fill="#ff0000"/><rect x="580.2" y="356.9" width="1.7" height="1.7" fill="#ff0000"/><rect x="552.7" y="368.7" width="1.7" height="1.7" fill="#ff0000"/><rect x="568.6" y="364.7" width="1.7" height="1.7" fill="#ff0000"/><rect x="567.9" y="365.3" width="1.7" height="1.7" fill="#ff0000"/><rect x="570.0" y="359.1" width="1.7" height="1.7" fill="#ff0000"/><rect x="553.1" y="365.8" width="1.7" height="1.7" fill="#ff0000"/><rect x="576.8" y="361.9" width="1.7" height="1.7" fill="#ff0000"/><rect x="555.9" y="365.8" width="1.7" height="1.7" fill="#ff0000"/><rect x="566.6" y="362.6" width="1.7" height="1.7" fill="#ff0000"/><rect x="558.0" y="362.6" width="1.7" height="1.7" fill="#ff0000"/><rect x="572.3" y="364.8" width="1.7" height="1.7" fill="#ff0000"/><rect x="556.6" y="364.6" width="1.7" height="1.7" fill="#ff0000"/><rect x="583.1" y="360.9" width="1.7" height="1.7" fill="#ff0000"/><rect x="560.0" y="360.9" width="1.7" height="1.7" fill="#ff0000"/><rect x="588.3" y="359.8" width="1.7" height="1.7" fill="#ff0000"/><rect x="570.8" y="358.1" width="1.7" height="1.7" fill="#ff0000"/><rect x="587.7" y="356.5" width="1.7" height="1.7" fill="#ff0000"/><rect x="586.9" y="358.0" width="1.7" height="1.7" fill="#ff0000"/><rect x="583.8" y="355.9" width="1.7" height="1.7" fill="#ff0000"/><rect x="582.4" y="356.6" width="1.7" height="1.7" fill="#ff0000"/><rect x="567.9" y="365.0" width="1.7" height="1.7" fill="#ff0000"/><rect x="584.0" y="356.0" width="1.7" height="1.7" fill="#ff0000"/><rect x="560.8" y="363.0" width="1.7" height="1.7" fill="#ff0000"/><rect x="572.2" y="360.4" width="1.7" height="1.7" fill="#ff0000"/><rect x="557.2" y="362.5" width="1.7" height="1.7" fill="#ff0000"/><rect x="580.0" y="361.1" width="1.7" height="1.7" fill="#ff0000"/><rect x="554.1" y="365.7" width="1.7" height="1.7" fill="#ff0000"/><rect x="581.3" y="355.7" width="1.7" height="1.7" fill="#ff0000"/><rect x="584.4" y="355.5" width="1.7" height="1.7" fill="#ff0000"/><rect x="575.3" y="360.0" width="1.7" height="1.7" fill="#ff0000"/><rect x="576.3" y="358.3" width="1.7" height="1.7" fill="#ff0000"/><rect x="568.5" y="362.8" width="1.7" height="1.7" fill="#ff0000"/><rect x="568.7" y="363.4" width="1.7" height="1.7" fill="#ff0000"/><rect x="569.5" y="361.4" width="1.7" height="1.7" fill="#ff0000"/><rect x="553.4" y="366.3" width="1.7" height="1.7" fill="#ff0000"/><rect x="571.1" y="359.5" width="1.7" height="1.7" fill="#ff0000"/><rect x="581.5" y="360.1" width="1.7" height="1.7" fill="#ff0000"/><rect x="569.9" y="359.3" width="1.7" height="1.7" fill="#ff0000"/><rect x="570.5" y="358.6" width="1.7" height="1.7" fill="#ff0000"/><rect x="557.4" y="363.9" width="1.7" height="1.7" fill="#ff0000"/><rect x="556.0" y="364.3" width="1.7" height="1.7" fill="#ff0000"/><rect x="571.9" y="357.8" width="1.7" height="1.7" fill="#ff0000"/><rect x="576.7" y="356.9" width="1.7" height="1.7" fill="#ff0000"/><rect x="580.4" y="360.3" width="1.7" height="1.7" fill="#ff0000"/><rect x="571.9" y="357.9" width="1.7" height="1.7" fill="#ff0000"/><rect x="571.6" y="360.5" width="1.7" height="1.7" fill="#ff0000"/><rect x="588.6" y="354.7" width="1.7" height="1.7" fill="#ff0000"/><rect x="585.1" y="360.6" width="1.7" height="1.7" fill="#ff0000"/><rect x="580.3" y="360.6" width="1.7" height="1.7" fill="#ff0000"/><rect x="559.9" y="367.8" width="1.7" height="1.7" fill="#ff0000"/><rect x="571.2" y="365.2" width="1.7" height="1.7" fill="#ff0000"/><rect x="587.3" y="355.2" width="1.7" height="1.7" fill="#ff0000"/><rect x="582.5" y="360.8" width="1.7" height="1.7" fill="#ff0000"/><rect x="555.0" y="363.8" width="1.7" height="1.7" fill="#ff0000"/><rect x="581.2" y="356.4" width="1.7" height="1.7" fill="#ff0000"/><rect x="586.6" y="356.0" width="1.7" height="1.7" fill="#ff0000"/><rect x="583.5" y="355.9" width="1.7" height="1.7" fill="#ff0000"/><rect x="571.6" y="364.9" width="1.7" height="1.7" fill="#ff0000"/><rect x="560.4" y="361.9" width="1.7" height="1.7" fill="#ff0000"/><rect x="571.7" y="360.0" width="1.7" height="1.7" fill="#ff0000"/><rect x="553.9" y="362.7" width="1.7" height="1.7" fill="#ff0000"/><rect x="558.6" y="367.7" width="1.7" height="1.7" fill="#ff0000"/><rect x="578.3" y="361.5" width="1.7" height="1.7" fill="#ff0000"/><rect x="558.9" y="366.4" width="1.7" height="1.7" fill="#ff0000"/><rect x="556.9" y="364.8" width="1.7" height="1.7" fill="#ff0000"/><rect x="576.7" y="358.6" width="1.7" height="1.7" fill="#ff0000"/><rect x="585.7" y="357.9" width="1.7" height="1.7" fill="#ff0000"/><rect x="574.5" y="363.9" width="1.7" height="1.7" fill="#ff0000"/><rect x="556.5" y="368.6" width="1.7" height="1.7" fill="#ff0000"/><rect x="576.4" y="358.8" width="1.7" height="1.7" fill="#ff0000"/><rect x="582.8" y="356.7" width="1.7" height="1.7" fill="#ff0000"/><rect x="590.1" y="357.1" width="1.7" height="1.7" fill="#ff0000"/><rect x="566.2" y="364.7" width="1.7" height="1.7" fill="#ff0000"/><rect x="569.3" y="359.4" width="1.7" height="1.7" fill="#ff0000"/><rect x="580.8" y="355.9" width="1.7" height="1.7" fill="#ff0000"/><rect x="583.7" y="356.5" width="1.7" height="1.7" fill="#ff0000"/><rect x="576.8" y="362.3" width="1.7" height="1.7" fill="#ff0000"/><rect x="574.8" y="362.1" width="1.7" height="1.7" fill="#ff0000"/><rect x="564.4" y="359.0" width="1.7" height="1.7" fill="#ff0000"/><rect x="553.8" y="362.4" width="1.7" height="1.7" fill="#ff0000"/><rect x="575.9" y="359.2" width="1.7" height="1.7" fill="#ff0000"/><rect x="572.0" y="364.6" width="1.7" height="1.7" fill="#ff0000"/><rect x="557.5" y="362.3" width="1.7" height="1.7" fill="#ff0000"/><rect x="577.3" y="356.4" width="1.7" height="1.7" fill="#ff0000"/><rect x="552.6" y="364.3" width="1.7" height="1.7" fill="#ff0000"/><rect x="556.5" y="363.5" width="1.7" height="1.7" fill="#ff0000"/><rect x="561.0" y="364.4" width="1.7" height="1.7" fill="#ff0000"/><rect x="574.9" y="358.4" width="1.7" height="1.7" fill="#ff0000"/><rect x="576.2" y="359.4" width="1.7" height="1.7" fill="#ff0000"/><rect x="557.6" y="367.9" width="1.7" height="1.7" fill="#ff0000"/><rect x="561.8" y="360.8" width="1.7" height="1.7" fill="#ff0000"/><rect x="556.1" y="365.8" width="1.7" height="1.7" fill="#ff0000"/><rect x="585.6" y="359.3" width="1.7" height="1.7" fill="#ff0000"/><rect x="567.8" y="360.4" width="1.7" height="1.7" fill="#ff0000"/><rect x="552.9" y="366.6" width="1.7" height="1.7" fill="#ff0000"/><rect x="573.9" y="359.8" width="1.7" height="1.7" fill="#ff0000"/><rect x="577.0" y="359.0" width="1.7" height="1.7" fill="#ff0000"/><rect x="588.1" y="358.4" width="1.7" height="1.7" fill="#ff0000"/><rect x="561.9" y="366.7" width="1.7" height="1.7" fill="#ff0000"/><rect x="554.2" y="365.4" width="1.7" height="1.7" fill="#ff0000"/><rect x="567.9" y="360.2" width="1.7" height="1.7" fill="#ff0000"/><rect x="554.7" y="367.3" width="1.7" height="1.7" fill="#ff0000"/><rect x="553.0" y="365.8" width="1.7" height="1.7" fill="#ff0000"/><rect x="588.3" y="354.9" width="1.7" height="1.7" fill="#ff0000"/><rect x="560.1" y="364.8" width="1.7" height="1.7" fill="#ff0000"/><rect x="571.8" y="362.6" width="1.7" height="1.7" fill="#ff0000"/><rect x="583.4" y="356.1" width="1.7" height="1.7" fill="#ff0000"/><rect x="564.3" y="361.4" width="1.7" height="1.7" fill="#ff0000"/><rect x="554.3" y="368.2" width="1.7" height="1.7" fill="#ff0000"/><rect x="582.3" y="359.6" width="1.7" height="1.7" fill="#ff0000"/><rect x="552.7" y="368.2" width="1.7" height="1.7" fill="#ff0000"/><rect x="580.8" y="358.4" width="1.7" height="1.7" fill="#ff0000"/><rect x="580.7" y="358.3" width="1.7" height="1.7" fill="#ff0000"/><rect x="561.1" y="360.5" width="1.7" height="1.7" fill="#ff0000"/><rect x="561.3" y="360.0" width="1.7" height="1.7" fill="#ff0000"/><rect x="565.2" y="364.8" width="1.7" height="1.7" fill="#ff0000"/><rect x="578.9" y="361.0" width="1.7" height="1.7" fill="#ff0000"/><rect x="579.5" y="357.4" width="1.7" height="1.7" fill="#ff0000"/><rect x="573.5" y="360.6" width="1.7" height="1.7" fill="#ff0000"/><rect x="582.5" y="358.4" width="1.7" height="1.7" fill="#ff0000"/><rect x="562.6" y="364.5" width="1.7" height="1.7" fill="#ff0000"/><rect x="589.2" y="355.1" width="1.7" height="1.7" fill="#ff0000"/><rect x="585.9" y="354.6" width="1.7" height="1.7" fill="#ff0000"/><rect x="562.4" y="361.3" width="1.7" height="1.7" fill="#ff0000"/><rect x="580.8" y="361.2" width="1.7" height="1.7" fill="#ff0000"/><rect x="580.9" y="357.5" width="1.7" height="1.7" fill="#ff0000"/><rect x="585.9" y="356.5" width="1.7" height="1.7" fill="#ff0000"/><rect x="561.6" y="366.9" width="1.7" height="1.7" fill="#ff0000"/><rect x="576.5" y="360.6" width="1.7" height="1.7" fill="#ff0000"/><rect x="577.8" y="362.1" width="1.7" height="1.7" fill="#ff0000"/><rect x="570.3" y="364.5" width="1.7" height="1.7" fill="#ff0000"/><rect x="579.0" y="361.1" width="1.7" height="1.7" fill="#ff0000"/><rect x="569.1" y="363.8" width="1.7" height="1.7" fill="#ff0000"/><rect x="574.2" y="359.4" width="1.7" height="1.7" fill="#ff0000"/><rect x="560.6" y="364.8" width="1.7" height="1.7" fill="#ff0000"/><rect x="555.5" y="368.2" width="1.7" height="1.7" fill="#ff0000"/><rect x="558.0" y="360.6" width="1.7" height="1.7" fill="#ff0000"/><rect x="556.6" y="368.1" width="1.7" height="1.7" fill="#ff0000"/><rect x="565.6" y="359.9" width="1.7" height="1.7" fill="#ff0000"/><rect x="553.6" y="361.6" width="1.7" height="1.7" fill="#ff0000"/><rect x="578.8" y="359.8" width="1.7" height="1.7" fill="#ff0000"/><rect x="579.0" y="360.4" width="1.7" height="1.7" fill="#ff0000"/><rect x="555.0" y="365.7" width="1.7" height="1.7" fill="#ff0000"/><rect x="566.3" y="365.1" width="1.7" height="1.7" fill="#ff0000"/><rect x="583.6" y="360.3" width="1.7" height="1.7" fill="#ff0000"/><rect x="555.0" y="367.9" width="1.7" height="1.7" fill="#ff0000"/><rect x="587.2" y="359.9" width="1.7" height="1.7" fill="#ff0000"/><rect x="556.6" y="362.3" width="1.7" height="1.7" fill="#ff0000"/><rect x="556.8" y="360.9" width="1.7" height="1.7" fill="#ff0000"/><rect x="584.7" y="359.6" width="1.7" height="1.7" fill="#ff0000"/><rect x="576.6" y="361.4" width="1.7" height="1.7" fill="#ff0000"/><rect x="576.5" y="358.2" width="1.7" height="1.7" fill="#ff0000"/><rect x="556.3" y="361.5" width="1.7" height="1.7" fill="#ff0000"/><rect x="581.3" y="356.7" width="1.7" height="1.7" fill="#ff0000"/><rect x="564.6" y="362.3" width="1.7" height="1.7" fill="#ff0000"/><rect x="553.3" y="363.4" width="1.7" height="1.7" fill="#ff0000"/><rect x="563.2" y="365.0" width="1.7" height="1.7" fill="#ff0000"/><rect x="566.5" y="361.1" width="1.7" height="1.7" fill="#ff0000"/><rect x="589.1" y="356.8" width="1.7" height="1.7" fill="#ff0000"/><rect x="584.9" y="358.4" width="1.7" height="1.7" fill="#ff0000"/><rect x="553.7" y="364.6" width="1.7" height="1.7" fill="#ff0000"/><rect x="569.1" y="364.2" width="1.7" height="1.7" fill="#ff0000"/><rect x="565.7" y="364.4" width="1.7" height="1.7" fill="#ff0000"/><rect x="572.9" y="358.9" width="1.7" height="1.7" fill="#ff0000"/><rect x="585.3" y="355.2" width="1.7" height="1.7" fill="#ff0000"/><rect x="583.7" y="356.0" width="1.7" height="1.7" fill="#ff0000"/><rect x="552.5" y="363.1" width="1.7" height="1.7" fill="#ff0000"/><rect x="581.5" y="361.3" width="1.7" height="1.7" fill="#ff0000"/><rect x="553.0" y="375.0" width="2" height="2" fill="#ff0000"/><rect x="556.5" y="374.5" width="2" height="2" fill="#ff0000"/><rect x="559.0" y="375.5" width="2" height="2" fill="#ff0000"/><rect x="563.0" y="376.0" width="2" height="2" fill="#ff0000"/><rect x="565.0" y="375.0" width="2" height="2" fill="#ff0000"/><rect x="572.5" y="377.0" width="2" height="2" fill="#ff0000"/><rect x="575.5" y="374.0" width="2" height="2" fill="#ff0000"/><rect x="560.5" y="373.0" width="2" height="2" fill="#ff0000"/><rect x="555.0" y="371.5" width="2" height="2" fill="#ff0000"/><line x1="569.80" y1="366.00" x2="569.80" y2="391.20" stroke="#ff0000" stroke-width="0.6" /><rect x="568.8" y="390.0" width="2.2" height="2.2" fill="#ff0000"/><line x1="580.80" y1="349.00" x2="580.80" y2="358.00" stroke="#ff0000" stroke-width="0.6" /><rect x="579.8" y="347.8" width="2.1" height="2.1" fill="#ff0000"/><path d="M633.6,347.6 L633.6,339.8 L638,341.2 L641,340.4 L644.8,341.6 L645.5,344.6 L655,344.3 L665.5,344.6" stroke="#ff0000" stroke-width="2.8" fill="none" /><path d="M633.6,340.5 L644.8,340.5 L644.8,343 L633.6,343 Z" stroke="#ff0000" stroke-width="1.2" fill="#ff0000" /><line x1="666.10" y1="304.80" x2="666.10" y2="345.00" stroke="#ff0000" stroke-width="0.7" /><rect x="665.0" y="303.8" width="2.2" height="2.2" fill="#ff0000"/><text x="641.90" y="295.80" font-family='"Liberation Serif", serif' font-size="12.0" fill="#000" font-weight="normal" font-style="normal" textLength="28.70" lengthAdjust="spacingAndGlyphs" >1275 V</text><line x1="641.90" y1="298.20" x2="670.60" y2="298.20" stroke="#000" stroke-width="1" /><text x="597.00" y="442.60" font-family='"Liberation Serif", serif' font-size="14.0" fill="#000" font-weight="normal" font-style="normal" textLength="29.00" lengthAdjust="spacingAndGlyphs" ><tspan font-style="italic">V</tspan><tspan font-size="8.5" dy="2">DS</tspan><tspan dy="-2">[V]</tspan></text><text x="0" y="0" font-family='"Liberation Serif", serif' font-size="11.5" fill="#000" font-weight="normal" textLength="71.50" lengthAdjust="spacingAndGlyphs" transform="translate(499.30,369.50) rotate(-90)">|<tspan font-style="italic">I</tspan><tspan font-size="8" dy="2">DS</tspan><tspan dy="-2">| [A/mm]</tspan></text></svg>
</body></html>
